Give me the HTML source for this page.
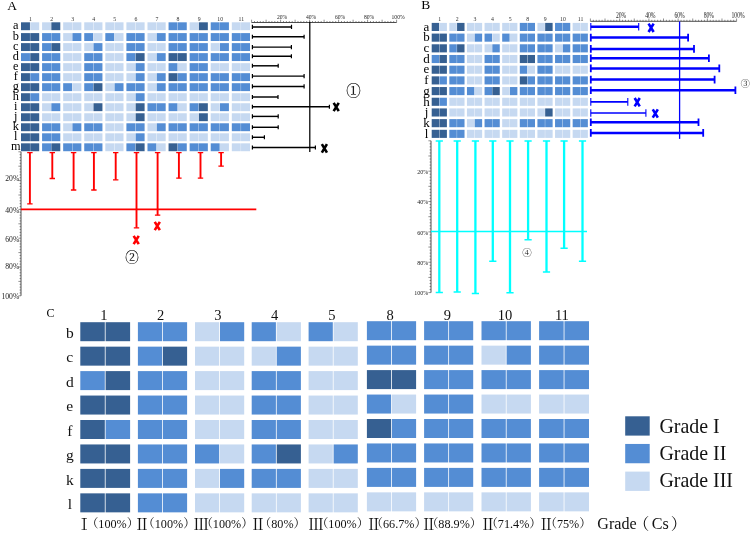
<!DOCTYPE html>
<html><head><meta charset="utf-8"><title>Figure</title>
<style>html,body{margin:0;padding:0;background:#fff}svg{display:block}svg text{font-family:"Liberation Serif","Noto Serif CJK SC",serif}</style></head>
<body>
<svg width="750" height="545" viewBox="0 0 750 545">
<rect width="750" height="545" fill="#fff"/>
<text x="7.30" y="10.00" font-size="13.5" text-anchor="start" fill="#000">A</text>
<text x="30.50" y="21.00" font-size="5.8" text-anchor="middle" fill="#333">1</text>
<text x="51.58" y="21.00" font-size="5.8" text-anchor="middle" fill="#333">2</text>
<text x="72.66" y="21.00" font-size="5.8" text-anchor="middle" fill="#333">3</text>
<text x="93.74" y="21.00" font-size="5.8" text-anchor="middle" fill="#333">4</text>
<text x="114.82" y="21.00" font-size="5.8" text-anchor="middle" fill="#333">5</text>
<text x="135.90" y="21.00" font-size="5.8" text-anchor="middle" fill="#333">6</text>
<text x="156.98" y="21.00" font-size="5.8" text-anchor="middle" fill="#333">7</text>
<text x="178.06" y="21.00" font-size="5.8" text-anchor="middle" fill="#333">8</text>
<text x="199.14" y="21.00" font-size="5.8" text-anchor="middle" fill="#333">9</text>
<text x="220.22" y="21.00" font-size="5.8" text-anchor="middle" fill="#333">10</text>
<text x="241.30" y="21.00" font-size="5.8" text-anchor="middle" fill="#333">11</text>
<rect x="21.00" y="22.30" width="8.95" height="7.90" fill="#366092"/>
<rect x="30.25" y="22.30" width="8.95" height="7.90" fill="#C6D9F1"/>
<rect x="42.08" y="22.30" width="8.95" height="7.90" fill="#C6D9F1"/>
<rect x="51.33" y="22.30" width="8.95" height="7.90" fill="#366092"/>
<rect x="63.16" y="22.30" width="8.95" height="7.90" fill="#C6D9F1"/>
<rect x="72.41" y="22.30" width="8.95" height="7.90" fill="#C6D9F1"/>
<rect x="84.24" y="22.30" width="8.95" height="7.90" fill="#C6D9F1"/>
<rect x="93.49" y="22.30" width="8.95" height="7.90" fill="#C6D9F1"/>
<rect x="105.32" y="22.30" width="8.95" height="7.90" fill="#C6D9F1"/>
<rect x="114.57" y="22.30" width="8.95" height="7.90" fill="#C6D9F1"/>
<rect x="126.40" y="22.30" width="8.95" height="7.90" fill="#C6D9F1"/>
<rect x="135.65" y="22.30" width="8.95" height="7.90" fill="#C6D9F1"/>
<rect x="147.48" y="22.30" width="8.95" height="7.90" fill="#C6D9F1"/>
<rect x="156.73" y="22.30" width="8.95" height="7.90" fill="#C6D9F1"/>
<rect x="168.56" y="22.30" width="8.95" height="7.90" fill="#548DD4"/>
<rect x="177.81" y="22.30" width="8.95" height="7.90" fill="#548DD4"/>
<rect x="189.64" y="22.30" width="8.95" height="7.90" fill="#C6D9F1"/>
<rect x="198.89" y="22.30" width="8.95" height="7.90" fill="#366092"/>
<rect x="210.72" y="22.30" width="8.95" height="7.90" fill="#548DD4"/>
<rect x="219.97" y="22.30" width="8.95" height="7.90" fill="#548DD4"/>
<rect x="231.80" y="22.30" width="8.95" height="7.90" fill="#C6D9F1"/>
<rect x="241.05" y="22.30" width="8.95" height="7.90" fill="#C6D9F1"/>
<text x="15.80" y="29.15" font-size="12.3" text-anchor="middle" fill="#000">a</text>
<rect x="21.00" y="33.10" width="8.95" height="7.90" fill="#366092"/>
<rect x="30.25" y="33.10" width="8.95" height="7.90" fill="#366092"/>
<rect x="42.08" y="33.10" width="8.95" height="7.90" fill="#548DD4"/>
<rect x="51.33" y="33.10" width="8.95" height="7.90" fill="#548DD4"/>
<rect x="63.16" y="33.10" width="8.95" height="7.90" fill="#C6D9F1"/>
<rect x="72.41" y="33.10" width="8.95" height="7.90" fill="#548DD4"/>
<rect x="84.24" y="33.10" width="8.95" height="7.90" fill="#548DD4"/>
<rect x="93.49" y="33.10" width="8.95" height="7.90" fill="#C6D9F1"/>
<rect x="105.32" y="33.10" width="8.95" height="7.90" fill="#548DD4"/>
<rect x="114.57" y="33.10" width="8.95" height="7.90" fill="#C6D9F1"/>
<rect x="126.40" y="33.10" width="8.95" height="7.90" fill="#548DD4"/>
<rect x="135.65" y="33.10" width="8.95" height="7.90" fill="#548DD4"/>
<rect x="147.48" y="33.10" width="8.95" height="7.90" fill="#C6D9F1"/>
<rect x="156.73" y="33.10" width="8.95" height="7.90" fill="#548DD4"/>
<rect x="168.56" y="33.10" width="8.95" height="7.90" fill="#548DD4"/>
<rect x="177.81" y="33.10" width="8.95" height="7.90" fill="#548DD4"/>
<rect x="189.64" y="33.10" width="8.95" height="7.90" fill="#548DD4"/>
<rect x="198.89" y="33.10" width="8.95" height="7.90" fill="#548DD4"/>
<rect x="210.72" y="33.10" width="8.95" height="7.90" fill="#548DD4"/>
<rect x="219.97" y="33.10" width="8.95" height="7.90" fill="#548DD4"/>
<rect x="231.80" y="33.10" width="8.95" height="7.90" fill="#548DD4"/>
<rect x="241.05" y="33.10" width="8.95" height="7.90" fill="#548DD4"/>
<text x="15.80" y="39.95" font-size="12.3" text-anchor="middle" fill="#000">b</text>
<rect x="21.00" y="43.12" width="8.95" height="7.90" fill="#366092"/>
<rect x="30.25" y="43.12" width="8.95" height="7.90" fill="#366092"/>
<rect x="42.08" y="43.12" width="8.95" height="7.90" fill="#548DD4"/>
<rect x="51.33" y="43.12" width="8.95" height="7.90" fill="#366092"/>
<rect x="63.16" y="43.12" width="8.95" height="7.90" fill="#C6D9F1"/>
<rect x="72.41" y="43.12" width="8.95" height="7.90" fill="#C6D9F1"/>
<rect x="84.24" y="43.12" width="8.95" height="7.90" fill="#C6D9F1"/>
<rect x="93.49" y="43.12" width="8.95" height="7.90" fill="#548DD4"/>
<rect x="105.32" y="43.12" width="8.95" height="7.90" fill="#C6D9F1"/>
<rect x="114.57" y="43.12" width="8.95" height="7.90" fill="#C6D9F1"/>
<rect x="126.40" y="43.12" width="8.95" height="7.90" fill="#548DD4"/>
<rect x="135.65" y="43.12" width="8.95" height="7.90" fill="#548DD4"/>
<rect x="147.48" y="43.12" width="8.95" height="7.90" fill="#C6D9F1"/>
<rect x="156.73" y="43.12" width="8.95" height="7.90" fill="#C6D9F1"/>
<rect x="168.56" y="43.12" width="8.95" height="7.90" fill="#548DD4"/>
<rect x="177.81" y="43.12" width="8.95" height="7.90" fill="#548DD4"/>
<rect x="189.64" y="43.12" width="8.95" height="7.90" fill="#548DD4"/>
<rect x="198.89" y="43.12" width="8.95" height="7.90" fill="#548DD4"/>
<rect x="210.72" y="43.12" width="8.95" height="7.90" fill="#C6D9F1"/>
<rect x="219.97" y="43.12" width="8.95" height="7.90" fill="#548DD4"/>
<rect x="231.80" y="43.12" width="8.95" height="7.90" fill="#548DD4"/>
<rect x="241.05" y="43.12" width="8.95" height="7.90" fill="#548DD4"/>
<text x="15.80" y="49.97" font-size="12.3" text-anchor="middle" fill="#000">c</text>
<rect x="21.00" y="53.14" width="8.95" height="7.90" fill="#548DD4"/>
<rect x="30.25" y="53.14" width="8.95" height="7.90" fill="#366092"/>
<rect x="42.08" y="53.14" width="8.95" height="7.90" fill="#548DD4"/>
<rect x="51.33" y="53.14" width="8.95" height="7.90" fill="#548DD4"/>
<rect x="63.16" y="53.14" width="8.95" height="7.90" fill="#C6D9F1"/>
<rect x="72.41" y="53.14" width="8.95" height="7.90" fill="#C6D9F1"/>
<rect x="84.24" y="53.14" width="8.95" height="7.90" fill="#548DD4"/>
<rect x="93.49" y="53.14" width="8.95" height="7.90" fill="#548DD4"/>
<rect x="105.32" y="53.14" width="8.95" height="7.90" fill="#C6D9F1"/>
<rect x="114.57" y="53.14" width="8.95" height="7.90" fill="#C6D9F1"/>
<rect x="126.40" y="53.14" width="8.95" height="7.90" fill="#548DD4"/>
<rect x="135.65" y="53.14" width="8.95" height="7.90" fill="#366092"/>
<rect x="147.48" y="53.14" width="8.95" height="7.90" fill="#C6D9F1"/>
<rect x="156.73" y="53.14" width="8.95" height="7.90" fill="#548DD4"/>
<rect x="168.56" y="53.14" width="8.95" height="7.90" fill="#366092"/>
<rect x="177.81" y="53.14" width="8.95" height="7.90" fill="#366092"/>
<rect x="189.64" y="53.14" width="8.95" height="7.90" fill="#548DD4"/>
<rect x="198.89" y="53.14" width="8.95" height="7.90" fill="#548DD4"/>
<rect x="210.72" y="53.14" width="8.95" height="7.90" fill="#548DD4"/>
<rect x="219.97" y="53.14" width="8.95" height="7.90" fill="#548DD4"/>
<rect x="231.80" y="53.14" width="8.95" height="7.90" fill="#548DD4"/>
<rect x="241.05" y="53.14" width="8.95" height="7.90" fill="#548DD4"/>
<text x="15.80" y="59.99" font-size="12.3" text-anchor="middle" fill="#000">d</text>
<rect x="21.00" y="63.16" width="8.95" height="7.90" fill="#366092"/>
<rect x="30.25" y="63.16" width="8.95" height="7.90" fill="#366092"/>
<rect x="42.08" y="63.16" width="8.95" height="7.90" fill="#548DD4"/>
<rect x="51.33" y="63.16" width="8.95" height="7.90" fill="#548DD4"/>
<rect x="63.16" y="63.16" width="8.95" height="7.90" fill="#C6D9F1"/>
<rect x="72.41" y="63.16" width="8.95" height="7.90" fill="#C6D9F1"/>
<rect x="84.24" y="63.16" width="8.95" height="7.90" fill="#548DD4"/>
<rect x="93.49" y="63.16" width="8.95" height="7.90" fill="#548DD4"/>
<rect x="105.32" y="63.16" width="8.95" height="7.90" fill="#C6D9F1"/>
<rect x="114.57" y="63.16" width="8.95" height="7.90" fill="#C6D9F1"/>
<rect x="126.40" y="63.16" width="8.95" height="7.90" fill="#C6D9F1"/>
<rect x="135.65" y="63.16" width="8.95" height="7.90" fill="#548DD4"/>
<rect x="147.48" y="63.16" width="8.95" height="7.90" fill="#C6D9F1"/>
<rect x="156.73" y="63.16" width="8.95" height="7.90" fill="#C6D9F1"/>
<rect x="168.56" y="63.16" width="8.95" height="7.90" fill="#548DD4"/>
<rect x="177.81" y="63.16" width="8.95" height="7.90" fill="#C6D9F1"/>
<rect x="189.64" y="63.16" width="8.95" height="7.90" fill="#548DD4"/>
<rect x="198.89" y="63.16" width="8.95" height="7.90" fill="#548DD4"/>
<rect x="210.72" y="63.16" width="8.95" height="7.90" fill="#C6D9F1"/>
<rect x="219.97" y="63.16" width="8.95" height="7.90" fill="#C6D9F1"/>
<rect x="231.80" y="63.16" width="8.95" height="7.90" fill="#C6D9F1"/>
<rect x="241.05" y="63.16" width="8.95" height="7.90" fill="#C6D9F1"/>
<text x="15.80" y="70.01" font-size="12.3" text-anchor="middle" fill="#000">e</text>
<rect x="21.00" y="73.18" width="8.95" height="7.90" fill="#366092"/>
<rect x="30.25" y="73.18" width="8.95" height="7.90" fill="#548DD4"/>
<rect x="42.08" y="73.18" width="8.95" height="7.90" fill="#548DD4"/>
<rect x="51.33" y="73.18" width="8.95" height="7.90" fill="#548DD4"/>
<rect x="63.16" y="73.18" width="8.95" height="7.90" fill="#C6D9F1"/>
<rect x="72.41" y="73.18" width="8.95" height="7.90" fill="#C6D9F1"/>
<rect x="84.24" y="73.18" width="8.95" height="7.90" fill="#548DD4"/>
<rect x="93.49" y="73.18" width="8.95" height="7.90" fill="#548DD4"/>
<rect x="105.32" y="73.18" width="8.95" height="7.90" fill="#C6D9F1"/>
<rect x="114.57" y="73.18" width="8.95" height="7.90" fill="#C6D9F1"/>
<rect x="126.40" y="73.18" width="8.95" height="7.90" fill="#C6D9F1"/>
<rect x="135.65" y="73.18" width="8.95" height="7.90" fill="#548DD4"/>
<rect x="147.48" y="73.18" width="8.95" height="7.90" fill="#C6D9F1"/>
<rect x="156.73" y="73.18" width="8.95" height="7.90" fill="#548DD4"/>
<rect x="168.56" y="73.18" width="8.95" height="7.90" fill="#366092"/>
<rect x="177.81" y="73.18" width="8.95" height="7.90" fill="#548DD4"/>
<rect x="189.64" y="73.18" width="8.95" height="7.90" fill="#548DD4"/>
<rect x="198.89" y="73.18" width="8.95" height="7.90" fill="#548DD4"/>
<rect x="210.72" y="73.18" width="8.95" height="7.90" fill="#548DD4"/>
<rect x="219.97" y="73.18" width="8.95" height="7.90" fill="#548DD4"/>
<rect x="231.80" y="73.18" width="8.95" height="7.90" fill="#548DD4"/>
<rect x="241.05" y="73.18" width="8.95" height="7.90" fill="#548DD4"/>
<text x="15.80" y="80.03" font-size="12.3" text-anchor="middle" fill="#000">f</text>
<rect x="21.00" y="83.20" width="8.95" height="7.90" fill="#366092"/>
<rect x="30.25" y="83.20" width="8.95" height="7.90" fill="#366092"/>
<rect x="42.08" y="83.20" width="8.95" height="7.90" fill="#548DD4"/>
<rect x="51.33" y="83.20" width="8.95" height="7.90" fill="#548DD4"/>
<rect x="63.16" y="83.20" width="8.95" height="7.90" fill="#548DD4"/>
<rect x="72.41" y="83.20" width="8.95" height="7.90" fill="#C6D9F1"/>
<rect x="84.24" y="83.20" width="8.95" height="7.90" fill="#548DD4"/>
<rect x="93.49" y="83.20" width="8.95" height="7.90" fill="#366092"/>
<rect x="105.32" y="83.20" width="8.95" height="7.90" fill="#C6D9F1"/>
<rect x="114.57" y="83.20" width="8.95" height="7.90" fill="#548DD4"/>
<rect x="126.40" y="83.20" width="8.95" height="7.90" fill="#548DD4"/>
<rect x="135.65" y="83.20" width="8.95" height="7.90" fill="#548DD4"/>
<rect x="147.48" y="83.20" width="8.95" height="7.90" fill="#C6D9F1"/>
<rect x="156.73" y="83.20" width="8.95" height="7.90" fill="#548DD4"/>
<rect x="168.56" y="83.20" width="8.95" height="7.90" fill="#548DD4"/>
<rect x="177.81" y="83.20" width="8.95" height="7.90" fill="#548DD4"/>
<rect x="189.64" y="83.20" width="8.95" height="7.90" fill="#548DD4"/>
<rect x="198.89" y="83.20" width="8.95" height="7.90" fill="#548DD4"/>
<rect x="210.72" y="83.20" width="8.95" height="7.90" fill="#548DD4"/>
<rect x="219.97" y="83.20" width="8.95" height="7.90" fill="#548DD4"/>
<rect x="231.80" y="83.20" width="8.95" height="7.90" fill="#548DD4"/>
<rect x="241.05" y="83.20" width="8.95" height="7.90" fill="#548DD4"/>
<text x="15.80" y="90.05" font-size="12.3" text-anchor="middle" fill="#000">g</text>
<rect x="21.00" y="93.22" width="8.95" height="7.90" fill="#366092"/>
<rect x="30.25" y="93.22" width="8.95" height="7.90" fill="#548DD4"/>
<rect x="42.08" y="93.22" width="8.95" height="7.90" fill="#C6D9F1"/>
<rect x="51.33" y="93.22" width="8.95" height="7.90" fill="#C6D9F1"/>
<rect x="63.16" y="93.22" width="8.95" height="7.90" fill="#C6D9F1"/>
<rect x="72.41" y="93.22" width="8.95" height="7.90" fill="#C6D9F1"/>
<rect x="84.24" y="93.22" width="8.95" height="7.90" fill="#C6D9F1"/>
<rect x="93.49" y="93.22" width="8.95" height="7.90" fill="#C6D9F1"/>
<rect x="105.32" y="93.22" width="8.95" height="7.90" fill="#C6D9F1"/>
<rect x="114.57" y="93.22" width="8.95" height="7.90" fill="#C6D9F1"/>
<rect x="126.40" y="93.22" width="8.95" height="7.90" fill="#C6D9F1"/>
<rect x="135.65" y="93.22" width="8.95" height="7.90" fill="#548DD4"/>
<rect x="147.48" y="93.22" width="8.95" height="7.90" fill="#C6D9F1"/>
<rect x="156.73" y="93.22" width="8.95" height="7.90" fill="#C6D9F1"/>
<rect x="168.56" y="93.22" width="8.95" height="7.90" fill="#C6D9F1"/>
<rect x="177.81" y="93.22" width="8.95" height="7.90" fill="#C6D9F1"/>
<rect x="189.64" y="93.22" width="8.95" height="7.90" fill="#C6D9F1"/>
<rect x="198.89" y="93.22" width="8.95" height="7.90" fill="#C6D9F1"/>
<rect x="210.72" y="93.22" width="8.95" height="7.90" fill="#C6D9F1"/>
<rect x="219.97" y="93.22" width="8.95" height="7.90" fill="#C6D9F1"/>
<rect x="231.80" y="93.22" width="8.95" height="7.90" fill="#C6D9F1"/>
<rect x="241.05" y="93.22" width="8.95" height="7.90" fill="#C6D9F1"/>
<text x="15.80" y="100.07" font-size="12.3" text-anchor="middle" fill="#000">h</text>
<rect x="21.00" y="103.24" width="8.95" height="7.90" fill="#366092"/>
<rect x="30.25" y="103.24" width="8.95" height="7.90" fill="#366092"/>
<rect x="42.08" y="103.24" width="8.95" height="7.90" fill="#C6D9F1"/>
<rect x="51.33" y="103.24" width="8.95" height="7.90" fill="#548DD4"/>
<rect x="63.16" y="103.24" width="8.95" height="7.90" fill="#C6D9F1"/>
<rect x="72.41" y="103.24" width="8.95" height="7.90" fill="#C6D9F1"/>
<rect x="84.24" y="103.24" width="8.95" height="7.90" fill="#C6D9F1"/>
<rect x="93.49" y="103.24" width="8.95" height="7.90" fill="#366092"/>
<rect x="105.32" y="103.24" width="8.95" height="7.90" fill="#C6D9F1"/>
<rect x="114.57" y="103.24" width="8.95" height="7.90" fill="#C6D9F1"/>
<rect x="126.40" y="103.24" width="8.95" height="7.90" fill="#C6D9F1"/>
<rect x="135.65" y="103.24" width="8.95" height="7.90" fill="#366092"/>
<rect x="147.48" y="103.24" width="8.95" height="7.90" fill="#548DD4"/>
<rect x="156.73" y="103.24" width="8.95" height="7.90" fill="#548DD4"/>
<rect x="168.56" y="103.24" width="8.95" height="7.90" fill="#548DD4"/>
<rect x="177.81" y="103.24" width="8.95" height="7.90" fill="#C6D9F1"/>
<rect x="189.64" y="103.24" width="8.95" height="7.90" fill="#548DD4"/>
<rect x="198.89" y="103.24" width="8.95" height="7.90" fill="#366092"/>
<rect x="210.72" y="103.24" width="8.95" height="7.90" fill="#C6D9F1"/>
<rect x="219.97" y="103.24" width="8.95" height="7.90" fill="#548DD4"/>
<rect x="231.80" y="103.24" width="8.95" height="7.90" fill="#C6D9F1"/>
<rect x="241.05" y="103.24" width="8.95" height="7.90" fill="#C6D9F1"/>
<text x="15.80" y="110.09" font-size="12.3" text-anchor="middle" fill="#000">i</text>
<rect x="21.00" y="113.26" width="8.95" height="7.90" fill="#366092"/>
<rect x="30.25" y="113.26" width="8.95" height="7.90" fill="#366092"/>
<rect x="42.08" y="113.26" width="8.95" height="7.90" fill="#C6D9F1"/>
<rect x="51.33" y="113.26" width="8.95" height="7.90" fill="#C6D9F1"/>
<rect x="63.16" y="113.26" width="8.95" height="7.90" fill="#C6D9F1"/>
<rect x="72.41" y="113.26" width="8.95" height="7.90" fill="#C6D9F1"/>
<rect x="84.24" y="113.26" width="8.95" height="7.90" fill="#C6D9F1"/>
<rect x="93.49" y="113.26" width="8.95" height="7.90" fill="#C6D9F1"/>
<rect x="105.32" y="113.26" width="8.95" height="7.90" fill="#C6D9F1"/>
<rect x="114.57" y="113.26" width="8.95" height="7.90" fill="#C6D9F1"/>
<rect x="126.40" y="113.26" width="8.95" height="7.90" fill="#C6D9F1"/>
<rect x="135.65" y="113.26" width="8.95" height="7.90" fill="#366092"/>
<rect x="147.48" y="113.26" width="8.95" height="7.90" fill="#C6D9F1"/>
<rect x="156.73" y="113.26" width="8.95" height="7.90" fill="#C6D9F1"/>
<rect x="168.56" y="113.26" width="8.95" height="7.90" fill="#C6D9F1"/>
<rect x="177.81" y="113.26" width="8.95" height="7.90" fill="#C6D9F1"/>
<rect x="189.64" y="113.26" width="8.95" height="7.90" fill="#C6D9F1"/>
<rect x="198.89" y="113.26" width="8.95" height="7.90" fill="#366092"/>
<rect x="210.72" y="113.26" width="8.95" height="7.90" fill="#C6D9F1"/>
<rect x="219.97" y="113.26" width="8.95" height="7.90" fill="#C6D9F1"/>
<rect x="231.80" y="113.26" width="8.95" height="7.90" fill="#C6D9F1"/>
<rect x="241.05" y="113.26" width="8.95" height="7.90" fill="#C6D9F1"/>
<text x="15.80" y="120.11" font-size="12.3" text-anchor="middle" fill="#000">j</text>
<rect x="21.00" y="123.28" width="8.95" height="7.90" fill="#366092"/>
<rect x="30.25" y="123.28" width="8.95" height="7.90" fill="#366092"/>
<rect x="42.08" y="123.28" width="8.95" height="7.90" fill="#548DD4"/>
<rect x="51.33" y="123.28" width="8.95" height="7.90" fill="#548DD4"/>
<rect x="63.16" y="123.28" width="8.95" height="7.90" fill="#C6D9F1"/>
<rect x="72.41" y="123.28" width="8.95" height="7.90" fill="#548DD4"/>
<rect x="84.24" y="123.28" width="8.95" height="7.90" fill="#548DD4"/>
<rect x="93.49" y="123.28" width="8.95" height="7.90" fill="#548DD4"/>
<rect x="105.32" y="123.28" width="8.95" height="7.90" fill="#C6D9F1"/>
<rect x="114.57" y="123.28" width="8.95" height="7.90" fill="#C6D9F1"/>
<rect x="126.40" y="123.28" width="8.95" height="7.90" fill="#548DD4"/>
<rect x="135.65" y="123.28" width="8.95" height="7.90" fill="#548DD4"/>
<rect x="147.48" y="123.28" width="8.95" height="7.90" fill="#C6D9F1"/>
<rect x="156.73" y="123.28" width="8.95" height="7.90" fill="#548DD4"/>
<rect x="168.56" y="123.28" width="8.95" height="7.90" fill="#548DD4"/>
<rect x="177.81" y="123.28" width="8.95" height="7.90" fill="#548DD4"/>
<rect x="189.64" y="123.28" width="8.95" height="7.90" fill="#548DD4"/>
<rect x="198.89" y="123.28" width="8.95" height="7.90" fill="#548DD4"/>
<rect x="210.72" y="123.28" width="8.95" height="7.90" fill="#548DD4"/>
<rect x="219.97" y="123.28" width="8.95" height="7.90" fill="#548DD4"/>
<rect x="231.80" y="123.28" width="8.95" height="7.90" fill="#548DD4"/>
<rect x="241.05" y="123.28" width="8.95" height="7.90" fill="#548DD4"/>
<text x="15.80" y="130.13" font-size="12.3" text-anchor="middle" fill="#000">k</text>
<rect x="21.00" y="133.30" width="8.95" height="7.90" fill="#366092"/>
<rect x="30.25" y="133.30" width="8.95" height="7.90" fill="#366092"/>
<rect x="42.08" y="133.30" width="8.95" height="7.90" fill="#548DD4"/>
<rect x="51.33" y="133.30" width="8.95" height="7.90" fill="#548DD4"/>
<rect x="63.16" y="133.30" width="8.95" height="7.90" fill="#C6D9F1"/>
<rect x="72.41" y="133.30" width="8.95" height="7.90" fill="#C6D9F1"/>
<rect x="84.24" y="133.30" width="8.95" height="7.90" fill="#C6D9F1"/>
<rect x="93.49" y="133.30" width="8.95" height="7.90" fill="#C6D9F1"/>
<rect x="105.32" y="133.30" width="8.95" height="7.90" fill="#C6D9F1"/>
<rect x="114.57" y="133.30" width="8.95" height="7.90" fill="#C6D9F1"/>
<rect x="126.40" y="133.30" width="8.95" height="7.90" fill="#C6D9F1"/>
<rect x="135.65" y="133.30" width="8.95" height="7.90" fill="#548DD4"/>
<rect x="147.48" y="133.30" width="8.95" height="7.90" fill="#C6D9F1"/>
<rect x="156.73" y="133.30" width="8.95" height="7.90" fill="#C6D9F1"/>
<rect x="168.56" y="133.30" width="8.95" height="7.90" fill="#C6D9F1"/>
<rect x="177.81" y="133.30" width="8.95" height="7.90" fill="#C6D9F1"/>
<rect x="189.64" y="133.30" width="8.95" height="7.90" fill="#C6D9F1"/>
<rect x="198.89" y="133.30" width="8.95" height="7.90" fill="#C6D9F1"/>
<rect x="210.72" y="133.30" width="8.95" height="7.90" fill="#C6D9F1"/>
<rect x="219.97" y="133.30" width="8.95" height="7.90" fill="#C6D9F1"/>
<rect x="231.80" y="133.30" width="8.95" height="7.90" fill="#C6D9F1"/>
<rect x="241.05" y="133.30" width="8.95" height="7.90" fill="#C6D9F1"/>
<text x="15.80" y="140.15" font-size="12.3" text-anchor="middle" fill="#000">l</text>
<rect x="21.00" y="143.32" width="8.95" height="7.90" fill="#366092"/>
<rect x="30.25" y="143.32" width="8.95" height="7.90" fill="#366092"/>
<rect x="42.08" y="143.32" width="8.95" height="7.90" fill="#548DD4"/>
<rect x="51.33" y="143.32" width="8.95" height="7.90" fill="#366092"/>
<rect x="63.16" y="143.32" width="8.95" height="7.90" fill="#548DD4"/>
<rect x="72.41" y="143.32" width="8.95" height="7.90" fill="#548DD4"/>
<rect x="84.24" y="143.32" width="8.95" height="7.90" fill="#548DD4"/>
<rect x="93.49" y="143.32" width="8.95" height="7.90" fill="#548DD4"/>
<rect x="105.32" y="143.32" width="8.95" height="7.90" fill="#C6D9F1"/>
<rect x="114.57" y="143.32" width="8.95" height="7.90" fill="#C6D9F1"/>
<rect x="126.40" y="143.32" width="8.95" height="7.90" fill="#548DD4"/>
<rect x="135.65" y="143.32" width="8.95" height="7.90" fill="#366092"/>
<rect x="147.48" y="143.32" width="8.95" height="7.90" fill="#548DD4"/>
<rect x="156.73" y="143.32" width="8.95" height="7.90" fill="#C6D9F1"/>
<rect x="168.56" y="143.32" width="8.95" height="7.90" fill="#366092"/>
<rect x="177.81" y="143.32" width="8.95" height="7.90" fill="#548DD4"/>
<rect x="189.64" y="143.32" width="8.95" height="7.90" fill="#548DD4"/>
<rect x="198.89" y="143.32" width="8.95" height="7.90" fill="#548DD4"/>
<rect x="210.72" y="143.32" width="8.95" height="7.90" fill="#548DD4"/>
<rect x="219.97" y="143.32" width="8.95" height="7.90" fill="#C6D9F1"/>
<rect x="231.80" y="143.32" width="8.95" height="7.90" fill="#C6D9F1"/>
<rect x="241.05" y="143.32" width="8.95" height="7.90" fill="#C6D9F1"/>
<text x="15.80" y="150.17" font-size="12.3" text-anchor="middle" fill="#000">m</text>
<line x1="251.6" y1="22.5" x2="396.6" y2="22.5" stroke="#444" stroke-width="0.95"/>
<line x1="251.60" y1="22.5" x2="251.60" y2="19.7" stroke="#444" stroke-width="0.6"/>
<line x1="254.50" y1="22.5" x2="254.50" y2="21.0" stroke="#444" stroke-width="0.6"/>
<line x1="257.40" y1="22.5" x2="257.40" y2="21.0" stroke="#444" stroke-width="0.6"/>
<line x1="260.30" y1="22.5" x2="260.30" y2="21.0" stroke="#444" stroke-width="0.6"/>
<line x1="263.20" y1="22.5" x2="263.20" y2="21.0" stroke="#444" stroke-width="0.6"/>
<line x1="266.10" y1="22.5" x2="266.10" y2="19.7" stroke="#444" stroke-width="0.6"/>
<line x1="269.00" y1="22.5" x2="269.00" y2="21.0" stroke="#444" stroke-width="0.6"/>
<line x1="271.90" y1="22.5" x2="271.90" y2="21.0" stroke="#444" stroke-width="0.6"/>
<line x1="274.80" y1="22.5" x2="274.80" y2="21.0" stroke="#444" stroke-width="0.6"/>
<line x1="277.70" y1="22.5" x2="277.70" y2="21.0" stroke="#444" stroke-width="0.6"/>
<line x1="280.60" y1="22.5" x2="280.60" y2="19.7" stroke="#444" stroke-width="0.6"/>
<line x1="283.50" y1="22.5" x2="283.50" y2="21.0" stroke="#444" stroke-width="0.6"/>
<line x1="286.40" y1="22.5" x2="286.40" y2="21.0" stroke="#444" stroke-width="0.6"/>
<line x1="289.30" y1="22.5" x2="289.30" y2="21.0" stroke="#444" stroke-width="0.6"/>
<line x1="292.20" y1="22.5" x2="292.20" y2="21.0" stroke="#444" stroke-width="0.6"/>
<line x1="295.10" y1="22.5" x2="295.10" y2="19.7" stroke="#444" stroke-width="0.6"/>
<line x1="298.00" y1="22.5" x2="298.00" y2="21.0" stroke="#444" stroke-width="0.6"/>
<line x1="300.90" y1="22.5" x2="300.90" y2="21.0" stroke="#444" stroke-width="0.6"/>
<line x1="303.80" y1="22.5" x2="303.80" y2="21.0" stroke="#444" stroke-width="0.6"/>
<line x1="306.70" y1="22.5" x2="306.70" y2="21.0" stroke="#444" stroke-width="0.6"/>
<line x1="309.60" y1="22.5" x2="309.60" y2="19.7" stroke="#444" stroke-width="0.6"/>
<line x1="312.50" y1="22.5" x2="312.50" y2="21.0" stroke="#444" stroke-width="0.6"/>
<line x1="315.40" y1="22.5" x2="315.40" y2="21.0" stroke="#444" stroke-width="0.6"/>
<line x1="318.30" y1="22.5" x2="318.30" y2="21.0" stroke="#444" stroke-width="0.6"/>
<line x1="321.20" y1="22.5" x2="321.20" y2="21.0" stroke="#444" stroke-width="0.6"/>
<line x1="324.10" y1="22.5" x2="324.10" y2="19.7" stroke="#444" stroke-width="0.6"/>
<line x1="327.00" y1="22.5" x2="327.00" y2="21.0" stroke="#444" stroke-width="0.6"/>
<line x1="329.90" y1="22.5" x2="329.90" y2="21.0" stroke="#444" stroke-width="0.6"/>
<line x1="332.80" y1="22.5" x2="332.80" y2="21.0" stroke="#444" stroke-width="0.6"/>
<line x1="335.70" y1="22.5" x2="335.70" y2="21.0" stroke="#444" stroke-width="0.6"/>
<line x1="338.60" y1="22.5" x2="338.60" y2="19.7" stroke="#444" stroke-width="0.6"/>
<line x1="341.50" y1="22.5" x2="341.50" y2="21.0" stroke="#444" stroke-width="0.6"/>
<line x1="344.40" y1="22.5" x2="344.40" y2="21.0" stroke="#444" stroke-width="0.6"/>
<line x1="347.30" y1="22.5" x2="347.30" y2="21.0" stroke="#444" stroke-width="0.6"/>
<line x1="350.20" y1="22.5" x2="350.20" y2="21.0" stroke="#444" stroke-width="0.6"/>
<line x1="353.10" y1="22.5" x2="353.10" y2="19.7" stroke="#444" stroke-width="0.6"/>
<line x1="356.00" y1="22.5" x2="356.00" y2="21.0" stroke="#444" stroke-width="0.6"/>
<line x1="358.90" y1="22.5" x2="358.90" y2="21.0" stroke="#444" stroke-width="0.6"/>
<line x1="361.80" y1="22.5" x2="361.80" y2="21.0" stroke="#444" stroke-width="0.6"/>
<line x1="364.70" y1="22.5" x2="364.70" y2="21.0" stroke="#444" stroke-width="0.6"/>
<line x1="367.60" y1="22.5" x2="367.60" y2="19.7" stroke="#444" stroke-width="0.6"/>
<line x1="370.50" y1="22.5" x2="370.50" y2="21.0" stroke="#444" stroke-width="0.6"/>
<line x1="373.40" y1="22.5" x2="373.40" y2="21.0" stroke="#444" stroke-width="0.6"/>
<line x1="376.30" y1="22.5" x2="376.30" y2="21.0" stroke="#444" stroke-width="0.6"/>
<line x1="379.20" y1="22.5" x2="379.20" y2="21.0" stroke="#444" stroke-width="0.6"/>
<line x1="382.10" y1="22.5" x2="382.10" y2="19.7" stroke="#444" stroke-width="0.6"/>
<line x1="385.00" y1="22.5" x2="385.00" y2="21.0" stroke="#444" stroke-width="0.6"/>
<line x1="387.90" y1="22.5" x2="387.90" y2="21.0" stroke="#444" stroke-width="0.6"/>
<line x1="390.80" y1="22.5" x2="390.80" y2="21.0" stroke="#444" stroke-width="0.6"/>
<line x1="393.70" y1="22.5" x2="393.70" y2="21.0" stroke="#444" stroke-width="0.6"/>
<line x1="396.60" y1="22.5" x2="396.60" y2="19.7" stroke="#444" stroke-width="0.6"/>
<text transform="translate(282.10 18.60) scale(0.84 1)" font-size="6.7" text-anchor="middle" fill="#222">20%</text>
<text transform="translate(311.10 18.60) scale(0.84 1)" font-size="6.7" text-anchor="middle" fill="#222">40%</text>
<text transform="translate(340.10 18.60) scale(0.84 1)" font-size="6.7" text-anchor="middle" fill="#222">60%</text>
<text transform="translate(369.10 18.60) scale(0.84 1)" font-size="6.7" text-anchor="middle" fill="#222">80%</text>
<text transform="translate(398.10 18.60) scale(0.84 1)" font-size="6.7" text-anchor="middle" fill="#222">100%</text>
<path d="M252.40 26.90H291.50" stroke="#000" stroke-width="1.45" fill="none"/>
<path d="M252.40 24.85v4.1M291.50 24.85v4.1" stroke="#000" stroke-width="1.2" fill="none"/>
<path d="M252.40 36.70H304.10" stroke="#000" stroke-width="1.45" fill="none"/>
<path d="M252.40 34.65v4.1M304.10 34.65v4.1" stroke="#000" stroke-width="1.2" fill="none"/>
<path d="M252.40 47.10H291.40" stroke="#000" stroke-width="1.45" fill="none"/>
<path d="M252.40 45.05v4.1M291.40 45.05v4.1" stroke="#000" stroke-width="1.2" fill="none"/>
<path d="M252.40 56.20H291.40" stroke="#000" stroke-width="1.45" fill="none"/>
<path d="M252.40 54.15v4.1M291.40 54.15v4.1" stroke="#000" stroke-width="1.2" fill="none"/>
<path d="M252.40 65.80H278.20" stroke="#000" stroke-width="1.45" fill="none"/>
<path d="M252.40 63.75v4.1M278.20 63.75v4.1" stroke="#000" stroke-width="1.2" fill="none"/>
<path d="M252.40 76.10H304.10" stroke="#000" stroke-width="1.45" fill="none"/>
<path d="M252.40 74.05v4.1M304.10 74.05v4.1" stroke="#000" stroke-width="1.2" fill="none"/>
<path d="M252.40 86.40H304.10" stroke="#000" stroke-width="1.45" fill="none"/>
<path d="M252.40 84.35v4.1M304.10 84.35v4.1" stroke="#000" stroke-width="1.2" fill="none"/>
<path d="M252.40 97.00H278.00" stroke="#000" stroke-width="1.45" fill="none"/>
<path d="M252.40 94.95v4.1M278.00 94.95v4.1" stroke="#000" stroke-width="1.2" fill="none"/>
<path d="M252.40 106.80H329.40" stroke="#000" stroke-width="1.45" fill="none"/>
<path d="M252.40 104.75v4.1M329.40 104.75v4.1" stroke="#000" stroke-width="1.2" fill="none"/>
<path d="M252.40 116.40H278.20" stroke="#000" stroke-width="1.45" fill="none"/>
<path d="M252.40 114.35v4.1M278.20 114.35v4.1" stroke="#000" stroke-width="1.2" fill="none"/>
<path d="M252.40 127.30H278.20" stroke="#000" stroke-width="1.45" fill="none"/>
<path d="M252.40 125.25v4.1M278.20 125.25v4.1" stroke="#000" stroke-width="1.2" fill="none"/>
<path d="M252.40 137.30H264.40" stroke="#000" stroke-width="1.45" fill="none"/>
<path d="M252.40 135.25v4.1M264.40 135.25v4.1" stroke="#000" stroke-width="1.2" fill="none"/>
<path d="M252.40 147.50H315.40" stroke="#000" stroke-width="1.45" fill="none"/>
<path d="M252.40 145.45v4.1M315.40 145.45v4.1" stroke="#000" stroke-width="1.2" fill="none"/>
<line x1="309.8" y1="21.8" x2="309.8" y2="151.9" stroke="#000" stroke-width="1.25"/>
<path d="M333.65 102.80L338.75 111.20M338.75 102.80L333.65 111.20" stroke="#000" stroke-width="2.6" fill="none"/>
<path d="M321.85 144.20L326.95 152.60M326.95 144.20L321.85 152.60" stroke="#000" stroke-width="2.6" fill="none"/>
<text x="353.60" y="95.90" font-size="14.5" text-anchor="middle" fill="#111" stroke="#111" stroke-width="0.2">①</text>
<line x1="21.0" y1="151.8" x2="21.0" y2="295.8" stroke="#444" stroke-width="0.95"/>
<line x1="21.0" y1="151.80" x2="18.4" y2="151.80" stroke="#444" stroke-width="0.6"/>
<line x1="21.0" y1="154.68" x2="19.6" y2="154.68" stroke="#444" stroke-width="0.6"/>
<line x1="21.0" y1="157.56" x2="19.6" y2="157.56" stroke="#444" stroke-width="0.6"/>
<line x1="21.0" y1="160.44" x2="19.6" y2="160.44" stroke="#444" stroke-width="0.6"/>
<line x1="21.0" y1="163.32" x2="19.6" y2="163.32" stroke="#444" stroke-width="0.6"/>
<line x1="21.0" y1="166.20" x2="18.4" y2="166.20" stroke="#444" stroke-width="0.6"/>
<line x1="21.0" y1="169.08" x2="19.6" y2="169.08" stroke="#444" stroke-width="0.6"/>
<line x1="21.0" y1="171.96" x2="19.6" y2="171.96" stroke="#444" stroke-width="0.6"/>
<line x1="21.0" y1="174.84" x2="19.6" y2="174.84" stroke="#444" stroke-width="0.6"/>
<line x1="21.0" y1="177.72" x2="19.6" y2="177.72" stroke="#444" stroke-width="0.6"/>
<line x1="21.0" y1="180.60" x2="18.4" y2="180.60" stroke="#444" stroke-width="0.6"/>
<line x1="21.0" y1="183.48" x2="19.6" y2="183.48" stroke="#444" stroke-width="0.6"/>
<line x1="21.0" y1="186.36" x2="19.6" y2="186.36" stroke="#444" stroke-width="0.6"/>
<line x1="21.0" y1="189.24" x2="19.6" y2="189.24" stroke="#444" stroke-width="0.6"/>
<line x1="21.0" y1="192.12" x2="19.6" y2="192.12" stroke="#444" stroke-width="0.6"/>
<line x1="21.0" y1="195.00" x2="18.4" y2="195.00" stroke="#444" stroke-width="0.6"/>
<line x1="21.0" y1="197.88" x2="19.6" y2="197.88" stroke="#444" stroke-width="0.6"/>
<line x1="21.0" y1="200.76" x2="19.6" y2="200.76" stroke="#444" stroke-width="0.6"/>
<line x1="21.0" y1="203.64" x2="19.6" y2="203.64" stroke="#444" stroke-width="0.6"/>
<line x1="21.0" y1="206.52" x2="19.6" y2="206.52" stroke="#444" stroke-width="0.6"/>
<line x1="21.0" y1="209.40" x2="18.4" y2="209.40" stroke="#444" stroke-width="0.6"/>
<line x1="21.0" y1="212.28" x2="19.6" y2="212.28" stroke="#444" stroke-width="0.6"/>
<line x1="21.0" y1="215.16" x2="19.6" y2="215.16" stroke="#444" stroke-width="0.6"/>
<line x1="21.0" y1="218.04" x2="19.6" y2="218.04" stroke="#444" stroke-width="0.6"/>
<line x1="21.0" y1="220.92" x2="19.6" y2="220.92" stroke="#444" stroke-width="0.6"/>
<line x1="21.0" y1="223.80" x2="18.4" y2="223.80" stroke="#444" stroke-width="0.6"/>
<line x1="21.0" y1="226.68" x2="19.6" y2="226.68" stroke="#444" stroke-width="0.6"/>
<line x1="21.0" y1="229.56" x2="19.6" y2="229.56" stroke="#444" stroke-width="0.6"/>
<line x1="21.0" y1="232.44" x2="19.6" y2="232.44" stroke="#444" stroke-width="0.6"/>
<line x1="21.0" y1="235.32" x2="19.6" y2="235.32" stroke="#444" stroke-width="0.6"/>
<line x1="21.0" y1="238.20" x2="18.4" y2="238.20" stroke="#444" stroke-width="0.6"/>
<line x1="21.0" y1="241.08" x2="19.6" y2="241.08" stroke="#444" stroke-width="0.6"/>
<line x1="21.0" y1="243.96" x2="19.6" y2="243.96" stroke="#444" stroke-width="0.6"/>
<line x1="21.0" y1="246.84" x2="19.6" y2="246.84" stroke="#444" stroke-width="0.6"/>
<line x1="21.0" y1="249.72" x2="19.6" y2="249.72" stroke="#444" stroke-width="0.6"/>
<line x1="21.0" y1="252.60" x2="18.4" y2="252.60" stroke="#444" stroke-width="0.6"/>
<line x1="21.0" y1="255.48" x2="19.6" y2="255.48" stroke="#444" stroke-width="0.6"/>
<line x1="21.0" y1="258.36" x2="19.6" y2="258.36" stroke="#444" stroke-width="0.6"/>
<line x1="21.0" y1="261.24" x2="19.6" y2="261.24" stroke="#444" stroke-width="0.6"/>
<line x1="21.0" y1="264.12" x2="19.6" y2="264.12" stroke="#444" stroke-width="0.6"/>
<line x1="21.0" y1="267.00" x2="18.4" y2="267.00" stroke="#444" stroke-width="0.6"/>
<line x1="21.0" y1="269.88" x2="19.6" y2="269.88" stroke="#444" stroke-width="0.6"/>
<line x1="21.0" y1="272.76" x2="19.6" y2="272.76" stroke="#444" stroke-width="0.6"/>
<line x1="21.0" y1="275.64" x2="19.6" y2="275.64" stroke="#444" stroke-width="0.6"/>
<line x1="21.0" y1="278.52" x2="19.6" y2="278.52" stroke="#444" stroke-width="0.6"/>
<line x1="21.0" y1="281.40" x2="18.4" y2="281.40" stroke="#444" stroke-width="0.6"/>
<line x1="21.0" y1="284.28" x2="19.6" y2="284.28" stroke="#444" stroke-width="0.6"/>
<line x1="21.0" y1="287.16" x2="19.6" y2="287.16" stroke="#444" stroke-width="0.6"/>
<line x1="21.0" y1="290.04" x2="19.6" y2="290.04" stroke="#444" stroke-width="0.6"/>
<line x1="21.0" y1="292.92" x2="19.6" y2="292.92" stroke="#444" stroke-width="0.6"/>
<line x1="21.0" y1="295.80" x2="18.4" y2="295.80" stroke="#444" stroke-width="0.6"/>
<text transform="translate(19.30 180.66) scale(0.88 1)" font-size="8.7" text-anchor="end" fill="#222">20%</text>
<text transform="translate(19.30 212.66) scale(0.88 1)" font-size="8.7" text-anchor="end" fill="#222">40%</text>
<text transform="translate(19.30 242.06) scale(0.88 1)" font-size="8.7" text-anchor="end" fill="#222">60%</text>
<text transform="translate(19.30 269.46) scale(0.88 1)" font-size="8.7" text-anchor="end" fill="#222">80%</text>
<text transform="translate(19.30 299.26) scale(0.88 1)" font-size="8.7" text-anchor="end" fill="#222">100%</text>
<path d="M29.90 152.60V203.90" stroke="#FF0000" stroke-width="1.9" fill="none"/>
<path d="M27.20 152.60h5.4M27.20 203.90h5.4" stroke="#FF0000" stroke-width="1.3" fill="none"/>
<path d="M52.30 152.60V178.50" stroke="#FF0000" stroke-width="1.9" fill="none"/>
<path d="M49.60 152.60h5.4M49.60 178.50h5.4" stroke="#FF0000" stroke-width="1.3" fill="none"/>
<path d="M73.60 152.60V190.00" stroke="#FF0000" stroke-width="1.9" fill="none"/>
<path d="M70.90 152.60h5.4M70.90 190.00h5.4" stroke="#FF0000" stroke-width="1.3" fill="none"/>
<path d="M93.90 152.60V190.00" stroke="#FF0000" stroke-width="1.9" fill="none"/>
<path d="M91.20 152.60h5.4M91.20 190.00h5.4" stroke="#FF0000" stroke-width="1.3" fill="none"/>
<path d="M115.70 152.60V179.80" stroke="#FF0000" stroke-width="1.9" fill="none"/>
<path d="M113.00 152.60h5.4M113.00 179.80h5.4" stroke="#FF0000" stroke-width="1.3" fill="none"/>
<path d="M136.50 152.60V227.80" stroke="#FF0000" stroke-width="1.9" fill="none"/>
<path d="M133.80 152.60h5.4M133.80 227.80h5.4" stroke="#FF0000" stroke-width="1.3" fill="none"/>
<path d="M157.60 152.60V215.20" stroke="#FF0000" stroke-width="1.9" fill="none"/>
<path d="M154.90 152.60h5.4M154.90 215.20h5.4" stroke="#FF0000" stroke-width="1.3" fill="none"/>
<path d="M178.90 152.60V178.20" stroke="#FF0000" stroke-width="1.9" fill="none"/>
<path d="M176.20 152.60h5.4M176.20 178.20h5.4" stroke="#FF0000" stroke-width="1.3" fill="none"/>
<path d="M200.50 152.60V178.20" stroke="#FF0000" stroke-width="1.9" fill="none"/>
<path d="M197.80 152.60h5.4M197.80 178.20h5.4" stroke="#FF0000" stroke-width="1.3" fill="none"/>
<path d="M221.10 152.60V166.20" stroke="#FF0000" stroke-width="1.9" fill="none"/>
<path d="M218.40 152.60h5.4M218.40 166.20h5.4" stroke="#FF0000" stroke-width="1.3" fill="none"/>
<line x1="21.0" y1="209.4" x2="256.3" y2="209.4" stroke="#FF0000" stroke-width="1.7"/>
<path d="M133.65 235.80L138.75 244.20M138.75 235.80L133.65 244.20" stroke="#FF0000" stroke-width="2.6" fill="none"/>
<path d="M154.75 221.80L159.85 230.20M159.85 221.80L154.75 230.20" stroke="#FF0000" stroke-width="2.6" fill="none"/>
<text x="132.10" y="262.26" font-size="13.5" text-anchor="middle" fill="#111" stroke="#111" stroke-width="0.2">②</text>
<text x="421.30" y="8.90" font-size="13.5" text-anchor="start" fill="#000">B</text>
<text x="439.60" y="21.00" font-size="5.8" text-anchor="middle" fill="#333">1</text>
<text x="457.22" y="21.00" font-size="5.8" text-anchor="middle" fill="#333">2</text>
<text x="474.84" y="21.00" font-size="5.8" text-anchor="middle" fill="#333">3</text>
<text x="492.46" y="21.00" font-size="5.8" text-anchor="middle" fill="#333">4</text>
<text x="510.08" y="21.00" font-size="5.8" text-anchor="middle" fill="#333">5</text>
<text x="527.70" y="21.00" font-size="5.8" text-anchor="middle" fill="#333">8</text>
<text x="545.32" y="21.00" font-size="5.8" text-anchor="middle" fill="#333">9</text>
<text x="562.94" y="21.00" font-size="5.8" text-anchor="middle" fill="#333">10</text>
<text x="580.56" y="21.00" font-size="5.8" text-anchor="middle" fill="#333">11</text>
<rect x="431.70" y="22.90" width="7.45" height="8.10" fill="#366092"/>
<rect x="439.45" y="22.90" width="7.45" height="8.10" fill="#C6D9F1"/>
<rect x="449.32" y="22.90" width="7.45" height="8.10" fill="#C6D9F1"/>
<rect x="457.07" y="22.90" width="7.45" height="8.10" fill="#366092"/>
<rect x="466.94" y="22.90" width="7.45" height="8.10" fill="#C6D9F1"/>
<rect x="474.69" y="22.90" width="7.45" height="8.10" fill="#C6D9F1"/>
<rect x="484.56" y="22.90" width="7.45" height="8.10" fill="#C6D9F1"/>
<rect x="492.31" y="22.90" width="7.45" height="8.10" fill="#C6D9F1"/>
<rect x="502.18" y="22.90" width="7.45" height="8.10" fill="#C6D9F1"/>
<rect x="509.93" y="22.90" width="7.45" height="8.10" fill="#C6D9F1"/>
<rect x="519.80" y="22.90" width="7.45" height="8.10" fill="#548DD4"/>
<rect x="527.55" y="22.90" width="7.45" height="8.10" fill="#548DD4"/>
<rect x="537.42" y="22.90" width="7.45" height="8.10" fill="#C6D9F1"/>
<rect x="545.17" y="22.90" width="7.45" height="8.10" fill="#366092"/>
<rect x="555.04" y="22.90" width="7.45" height="8.10" fill="#548DD4"/>
<rect x="562.79" y="22.90" width="7.45" height="8.10" fill="#548DD4"/>
<rect x="572.66" y="22.90" width="7.45" height="8.10" fill="#C6D9F1"/>
<rect x="580.41" y="22.90" width="7.45" height="8.10" fill="#C6D9F1"/>
<text x="426.50" y="30.70" font-size="13" text-anchor="middle" fill="#000">a</text>
<rect x="431.70" y="33.59" width="7.45" height="8.10" fill="#366092"/>
<rect x="439.45" y="33.59" width="7.45" height="8.10" fill="#366092"/>
<rect x="449.32" y="33.59" width="7.45" height="8.10" fill="#548DD4"/>
<rect x="457.07" y="33.59" width="7.45" height="8.10" fill="#548DD4"/>
<rect x="466.94" y="33.59" width="7.45" height="8.10" fill="#C6D9F1"/>
<rect x="474.69" y="33.59" width="7.45" height="8.10" fill="#548DD4"/>
<rect x="484.56" y="33.59" width="7.45" height="8.10" fill="#548DD4"/>
<rect x="492.31" y="33.59" width="7.45" height="8.10" fill="#C6D9F1"/>
<rect x="502.18" y="33.59" width="7.45" height="8.10" fill="#548DD4"/>
<rect x="509.93" y="33.59" width="7.45" height="8.10" fill="#C6D9F1"/>
<rect x="519.80" y="33.59" width="7.45" height="8.10" fill="#548DD4"/>
<rect x="527.55" y="33.59" width="7.45" height="8.10" fill="#548DD4"/>
<rect x="537.42" y="33.59" width="7.45" height="8.10" fill="#548DD4"/>
<rect x="545.17" y="33.59" width="7.45" height="8.10" fill="#548DD4"/>
<rect x="555.04" y="33.59" width="7.45" height="8.10" fill="#548DD4"/>
<rect x="562.79" y="33.59" width="7.45" height="8.10" fill="#548DD4"/>
<rect x="572.66" y="33.59" width="7.45" height="8.10" fill="#548DD4"/>
<rect x="580.41" y="33.59" width="7.45" height="8.10" fill="#548DD4"/>
<text x="426.50" y="41.39" font-size="13" text-anchor="middle" fill="#000">b</text>
<rect x="431.70" y="44.28" width="7.45" height="8.10" fill="#366092"/>
<rect x="439.45" y="44.28" width="7.45" height="8.10" fill="#366092"/>
<rect x="449.32" y="44.28" width="7.45" height="8.10" fill="#548DD4"/>
<rect x="457.07" y="44.28" width="7.45" height="8.10" fill="#366092"/>
<rect x="466.94" y="44.28" width="7.45" height="8.10" fill="#C6D9F1"/>
<rect x="474.69" y="44.28" width="7.45" height="8.10" fill="#C6D9F1"/>
<rect x="484.56" y="44.28" width="7.45" height="8.10" fill="#C6D9F1"/>
<rect x="492.31" y="44.28" width="7.45" height="8.10" fill="#548DD4"/>
<rect x="502.18" y="44.28" width="7.45" height="8.10" fill="#C6D9F1"/>
<rect x="509.93" y="44.28" width="7.45" height="8.10" fill="#C6D9F1"/>
<rect x="519.80" y="44.28" width="7.45" height="8.10" fill="#548DD4"/>
<rect x="527.55" y="44.28" width="7.45" height="8.10" fill="#548DD4"/>
<rect x="537.42" y="44.28" width="7.45" height="8.10" fill="#548DD4"/>
<rect x="545.17" y="44.28" width="7.45" height="8.10" fill="#548DD4"/>
<rect x="555.04" y="44.28" width="7.45" height="8.10" fill="#C6D9F1"/>
<rect x="562.79" y="44.28" width="7.45" height="8.10" fill="#548DD4"/>
<rect x="572.66" y="44.28" width="7.45" height="8.10" fill="#548DD4"/>
<rect x="580.41" y="44.28" width="7.45" height="8.10" fill="#548DD4"/>
<text x="426.50" y="52.08" font-size="13" text-anchor="middle" fill="#000">c</text>
<rect x="431.70" y="54.97" width="7.45" height="8.10" fill="#548DD4"/>
<rect x="439.45" y="54.97" width="7.45" height="8.10" fill="#366092"/>
<rect x="449.32" y="54.97" width="7.45" height="8.10" fill="#548DD4"/>
<rect x="457.07" y="54.97" width="7.45" height="8.10" fill="#548DD4"/>
<rect x="466.94" y="54.97" width="7.45" height="8.10" fill="#C6D9F1"/>
<rect x="474.69" y="54.97" width="7.45" height="8.10" fill="#C6D9F1"/>
<rect x="484.56" y="54.97" width="7.45" height="8.10" fill="#548DD4"/>
<rect x="492.31" y="54.97" width="7.45" height="8.10" fill="#548DD4"/>
<rect x="502.18" y="54.97" width="7.45" height="8.10" fill="#C6D9F1"/>
<rect x="509.93" y="54.97" width="7.45" height="8.10" fill="#C6D9F1"/>
<rect x="519.80" y="54.97" width="7.45" height="8.10" fill="#366092"/>
<rect x="527.55" y="54.97" width="7.45" height="8.10" fill="#366092"/>
<rect x="537.42" y="54.97" width="7.45" height="8.10" fill="#548DD4"/>
<rect x="545.17" y="54.97" width="7.45" height="8.10" fill="#548DD4"/>
<rect x="555.04" y="54.97" width="7.45" height="8.10" fill="#548DD4"/>
<rect x="562.79" y="54.97" width="7.45" height="8.10" fill="#548DD4"/>
<rect x="572.66" y="54.97" width="7.45" height="8.10" fill="#548DD4"/>
<rect x="580.41" y="54.97" width="7.45" height="8.10" fill="#548DD4"/>
<text x="426.50" y="62.77" font-size="13" text-anchor="middle" fill="#000">d</text>
<rect x="431.70" y="65.66" width="7.45" height="8.10" fill="#366092"/>
<rect x="439.45" y="65.66" width="7.45" height="8.10" fill="#366092"/>
<rect x="449.32" y="65.66" width="7.45" height="8.10" fill="#548DD4"/>
<rect x="457.07" y="65.66" width="7.45" height="8.10" fill="#548DD4"/>
<rect x="466.94" y="65.66" width="7.45" height="8.10" fill="#C6D9F1"/>
<rect x="474.69" y="65.66" width="7.45" height="8.10" fill="#C6D9F1"/>
<rect x="484.56" y="65.66" width="7.45" height="8.10" fill="#548DD4"/>
<rect x="492.31" y="65.66" width="7.45" height="8.10" fill="#548DD4"/>
<rect x="502.18" y="65.66" width="7.45" height="8.10" fill="#C6D9F1"/>
<rect x="509.93" y="65.66" width="7.45" height="8.10" fill="#C6D9F1"/>
<rect x="519.80" y="65.66" width="7.45" height="8.10" fill="#548DD4"/>
<rect x="527.55" y="65.66" width="7.45" height="8.10" fill="#C6D9F1"/>
<rect x="537.42" y="65.66" width="7.45" height="8.10" fill="#548DD4"/>
<rect x="545.17" y="65.66" width="7.45" height="8.10" fill="#548DD4"/>
<rect x="555.04" y="65.66" width="7.45" height="8.10" fill="#C6D9F1"/>
<rect x="562.79" y="65.66" width="7.45" height="8.10" fill="#C6D9F1"/>
<rect x="572.66" y="65.66" width="7.45" height="8.10" fill="#C6D9F1"/>
<rect x="580.41" y="65.66" width="7.45" height="8.10" fill="#C6D9F1"/>
<text x="426.50" y="73.46" font-size="13" text-anchor="middle" fill="#000">e</text>
<rect x="431.70" y="76.35" width="7.45" height="8.10" fill="#366092"/>
<rect x="439.45" y="76.35" width="7.45" height="8.10" fill="#548DD4"/>
<rect x="449.32" y="76.35" width="7.45" height="8.10" fill="#548DD4"/>
<rect x="457.07" y="76.35" width="7.45" height="8.10" fill="#548DD4"/>
<rect x="466.94" y="76.35" width="7.45" height="8.10" fill="#C6D9F1"/>
<rect x="474.69" y="76.35" width="7.45" height="8.10" fill="#C6D9F1"/>
<rect x="484.56" y="76.35" width="7.45" height="8.10" fill="#548DD4"/>
<rect x="492.31" y="76.35" width="7.45" height="8.10" fill="#548DD4"/>
<rect x="502.18" y="76.35" width="7.45" height="8.10" fill="#C6D9F1"/>
<rect x="509.93" y="76.35" width="7.45" height="8.10" fill="#C6D9F1"/>
<rect x="519.80" y="76.35" width="7.45" height="8.10" fill="#366092"/>
<rect x="527.55" y="76.35" width="7.45" height="8.10" fill="#548DD4"/>
<rect x="537.42" y="76.35" width="7.45" height="8.10" fill="#548DD4"/>
<rect x="545.17" y="76.35" width="7.45" height="8.10" fill="#548DD4"/>
<rect x="555.04" y="76.35" width="7.45" height="8.10" fill="#548DD4"/>
<rect x="562.79" y="76.35" width="7.45" height="8.10" fill="#548DD4"/>
<rect x="572.66" y="76.35" width="7.45" height="8.10" fill="#548DD4"/>
<rect x="580.41" y="76.35" width="7.45" height="8.10" fill="#548DD4"/>
<text x="426.50" y="84.15" font-size="13" text-anchor="middle" fill="#000">f</text>
<rect x="431.70" y="87.04" width="7.45" height="8.10" fill="#366092"/>
<rect x="439.45" y="87.04" width="7.45" height="8.10" fill="#366092"/>
<rect x="449.32" y="87.04" width="7.45" height="8.10" fill="#548DD4"/>
<rect x="457.07" y="87.04" width="7.45" height="8.10" fill="#548DD4"/>
<rect x="466.94" y="87.04" width="7.45" height="8.10" fill="#548DD4"/>
<rect x="474.69" y="87.04" width="7.45" height="8.10" fill="#C6D9F1"/>
<rect x="484.56" y="87.04" width="7.45" height="8.10" fill="#548DD4"/>
<rect x="492.31" y="87.04" width="7.45" height="8.10" fill="#366092"/>
<rect x="502.18" y="87.04" width="7.45" height="8.10" fill="#C6D9F1"/>
<rect x="509.93" y="87.04" width="7.45" height="8.10" fill="#548DD4"/>
<rect x="519.80" y="87.04" width="7.45" height="8.10" fill="#548DD4"/>
<rect x="527.55" y="87.04" width="7.45" height="8.10" fill="#548DD4"/>
<rect x="537.42" y="87.04" width="7.45" height="8.10" fill="#548DD4"/>
<rect x="545.17" y="87.04" width="7.45" height="8.10" fill="#548DD4"/>
<rect x="555.04" y="87.04" width="7.45" height="8.10" fill="#548DD4"/>
<rect x="562.79" y="87.04" width="7.45" height="8.10" fill="#548DD4"/>
<rect x="572.66" y="87.04" width="7.45" height="8.10" fill="#548DD4"/>
<rect x="580.41" y="87.04" width="7.45" height="8.10" fill="#548DD4"/>
<text x="426.50" y="94.84" font-size="13" text-anchor="middle" fill="#000">g</text>
<rect x="431.70" y="97.73" width="7.45" height="8.10" fill="#366092"/>
<rect x="439.45" y="97.73" width="7.45" height="8.10" fill="#548DD4"/>
<rect x="449.32" y="97.73" width="7.45" height="8.10" fill="#C6D9F1"/>
<rect x="457.07" y="97.73" width="7.45" height="8.10" fill="#C6D9F1"/>
<rect x="466.94" y="97.73" width="7.45" height="8.10" fill="#C6D9F1"/>
<rect x="474.69" y="97.73" width="7.45" height="8.10" fill="#C6D9F1"/>
<rect x="484.56" y="97.73" width="7.45" height="8.10" fill="#C6D9F1"/>
<rect x="492.31" y="97.73" width="7.45" height="8.10" fill="#C6D9F1"/>
<rect x="502.18" y="97.73" width="7.45" height="8.10" fill="#C6D9F1"/>
<rect x="509.93" y="97.73" width="7.45" height="8.10" fill="#C6D9F1"/>
<rect x="519.80" y="97.73" width="7.45" height="8.10" fill="#C6D9F1"/>
<rect x="527.55" y="97.73" width="7.45" height="8.10" fill="#C6D9F1"/>
<rect x="537.42" y="97.73" width="7.45" height="8.10" fill="#C6D9F1"/>
<rect x="545.17" y="97.73" width="7.45" height="8.10" fill="#C6D9F1"/>
<rect x="555.04" y="97.73" width="7.45" height="8.10" fill="#C6D9F1"/>
<rect x="562.79" y="97.73" width="7.45" height="8.10" fill="#C6D9F1"/>
<rect x="572.66" y="97.73" width="7.45" height="8.10" fill="#C6D9F1"/>
<rect x="580.41" y="97.73" width="7.45" height="8.10" fill="#C6D9F1"/>
<text x="426.50" y="105.53" font-size="13" text-anchor="middle" fill="#000">h</text>
<rect x="431.70" y="108.42" width="7.45" height="8.10" fill="#366092"/>
<rect x="439.45" y="108.42" width="7.45" height="8.10" fill="#366092"/>
<rect x="449.32" y="108.42" width="7.45" height="8.10" fill="#C6D9F1"/>
<rect x="457.07" y="108.42" width="7.45" height="8.10" fill="#C6D9F1"/>
<rect x="466.94" y="108.42" width="7.45" height="8.10" fill="#C6D9F1"/>
<rect x="474.69" y="108.42" width="7.45" height="8.10" fill="#C6D9F1"/>
<rect x="484.56" y="108.42" width="7.45" height="8.10" fill="#C6D9F1"/>
<rect x="492.31" y="108.42" width="7.45" height="8.10" fill="#C6D9F1"/>
<rect x="502.18" y="108.42" width="7.45" height="8.10" fill="#C6D9F1"/>
<rect x="509.93" y="108.42" width="7.45" height="8.10" fill="#C6D9F1"/>
<rect x="519.80" y="108.42" width="7.45" height="8.10" fill="#C6D9F1"/>
<rect x="527.55" y="108.42" width="7.45" height="8.10" fill="#C6D9F1"/>
<rect x="537.42" y="108.42" width="7.45" height="8.10" fill="#C6D9F1"/>
<rect x="545.17" y="108.42" width="7.45" height="8.10" fill="#366092"/>
<rect x="555.04" y="108.42" width="7.45" height="8.10" fill="#C6D9F1"/>
<rect x="562.79" y="108.42" width="7.45" height="8.10" fill="#C6D9F1"/>
<rect x="572.66" y="108.42" width="7.45" height="8.10" fill="#C6D9F1"/>
<rect x="580.41" y="108.42" width="7.45" height="8.10" fill="#C6D9F1"/>
<text x="426.50" y="116.22" font-size="13" text-anchor="middle" fill="#000">j</text>
<rect x="431.70" y="119.11" width="7.45" height="8.10" fill="#366092"/>
<rect x="439.45" y="119.11" width="7.45" height="8.10" fill="#366092"/>
<rect x="449.32" y="119.11" width="7.45" height="8.10" fill="#548DD4"/>
<rect x="457.07" y="119.11" width="7.45" height="8.10" fill="#548DD4"/>
<rect x="466.94" y="119.11" width="7.45" height="8.10" fill="#C6D9F1"/>
<rect x="474.69" y="119.11" width="7.45" height="8.10" fill="#548DD4"/>
<rect x="484.56" y="119.11" width="7.45" height="8.10" fill="#548DD4"/>
<rect x="492.31" y="119.11" width="7.45" height="8.10" fill="#548DD4"/>
<rect x="502.18" y="119.11" width="7.45" height="8.10" fill="#C6D9F1"/>
<rect x="509.93" y="119.11" width="7.45" height="8.10" fill="#C6D9F1"/>
<rect x="519.80" y="119.11" width="7.45" height="8.10" fill="#548DD4"/>
<rect x="527.55" y="119.11" width="7.45" height="8.10" fill="#548DD4"/>
<rect x="537.42" y="119.11" width="7.45" height="8.10" fill="#548DD4"/>
<rect x="545.17" y="119.11" width="7.45" height="8.10" fill="#548DD4"/>
<rect x="555.04" y="119.11" width="7.45" height="8.10" fill="#548DD4"/>
<rect x="562.79" y="119.11" width="7.45" height="8.10" fill="#548DD4"/>
<rect x="572.66" y="119.11" width="7.45" height="8.10" fill="#548DD4"/>
<rect x="580.41" y="119.11" width="7.45" height="8.10" fill="#548DD4"/>
<text x="426.50" y="126.91" font-size="13" text-anchor="middle" fill="#000">k</text>
<rect x="431.70" y="129.80" width="7.45" height="8.10" fill="#366092"/>
<rect x="439.45" y="129.80" width="7.45" height="8.10" fill="#366092"/>
<rect x="449.32" y="129.80" width="7.45" height="8.10" fill="#548DD4"/>
<rect x="457.07" y="129.80" width="7.45" height="8.10" fill="#548DD4"/>
<rect x="466.94" y="129.80" width="7.45" height="8.10" fill="#C6D9F1"/>
<rect x="474.69" y="129.80" width="7.45" height="8.10" fill="#C6D9F1"/>
<rect x="484.56" y="129.80" width="7.45" height="8.10" fill="#C6D9F1"/>
<rect x="492.31" y="129.80" width="7.45" height="8.10" fill="#C6D9F1"/>
<rect x="502.18" y="129.80" width="7.45" height="8.10" fill="#C6D9F1"/>
<rect x="509.93" y="129.80" width="7.45" height="8.10" fill="#C6D9F1"/>
<rect x="519.80" y="129.80" width="7.45" height="8.10" fill="#C6D9F1"/>
<rect x="527.55" y="129.80" width="7.45" height="8.10" fill="#C6D9F1"/>
<rect x="537.42" y="129.80" width="7.45" height="8.10" fill="#C6D9F1"/>
<rect x="545.17" y="129.80" width="7.45" height="8.10" fill="#C6D9F1"/>
<rect x="555.04" y="129.80" width="7.45" height="8.10" fill="#C6D9F1"/>
<rect x="562.79" y="129.80" width="7.45" height="8.10" fill="#C6D9F1"/>
<rect x="572.66" y="129.80" width="7.45" height="8.10" fill="#C6D9F1"/>
<rect x="580.41" y="129.80" width="7.45" height="8.10" fill="#C6D9F1"/>
<text x="426.50" y="137.60" font-size="13" text-anchor="middle" fill="#000">l</text>
<line x1="590.4" y1="21.3" x2="736.6" y2="21.3" stroke="#444" stroke-width="0.95"/>
<line x1="590.40" y1="21.3" x2="590.40" y2="18.5" stroke="#444" stroke-width="0.6"/>
<line x1="593.32" y1="21.3" x2="593.32" y2="19.8" stroke="#444" stroke-width="0.6"/>
<line x1="596.25" y1="21.3" x2="596.25" y2="19.8" stroke="#444" stroke-width="0.6"/>
<line x1="599.17" y1="21.3" x2="599.17" y2="19.8" stroke="#444" stroke-width="0.6"/>
<line x1="602.10" y1="21.3" x2="602.10" y2="19.8" stroke="#444" stroke-width="0.6"/>
<line x1="605.02" y1="21.3" x2="605.02" y2="18.5" stroke="#444" stroke-width="0.6"/>
<line x1="607.94" y1="21.3" x2="607.94" y2="19.8" stroke="#444" stroke-width="0.6"/>
<line x1="610.87" y1="21.3" x2="610.87" y2="19.8" stroke="#444" stroke-width="0.6"/>
<line x1="613.79" y1="21.3" x2="613.79" y2="19.8" stroke="#444" stroke-width="0.6"/>
<line x1="616.72" y1="21.3" x2="616.72" y2="19.8" stroke="#444" stroke-width="0.6"/>
<line x1="619.64" y1="21.3" x2="619.64" y2="18.5" stroke="#444" stroke-width="0.6"/>
<line x1="622.56" y1="21.3" x2="622.56" y2="19.8" stroke="#444" stroke-width="0.6"/>
<line x1="625.49" y1="21.3" x2="625.49" y2="19.8" stroke="#444" stroke-width="0.6"/>
<line x1="628.41" y1="21.3" x2="628.41" y2="19.8" stroke="#444" stroke-width="0.6"/>
<line x1="631.34" y1="21.3" x2="631.34" y2="19.8" stroke="#444" stroke-width="0.6"/>
<line x1="634.26" y1="21.3" x2="634.26" y2="18.5" stroke="#444" stroke-width="0.6"/>
<line x1="637.18" y1="21.3" x2="637.18" y2="19.8" stroke="#444" stroke-width="0.6"/>
<line x1="640.11" y1="21.3" x2="640.11" y2="19.8" stroke="#444" stroke-width="0.6"/>
<line x1="643.03" y1="21.3" x2="643.03" y2="19.8" stroke="#444" stroke-width="0.6"/>
<line x1="645.96" y1="21.3" x2="645.96" y2="19.8" stroke="#444" stroke-width="0.6"/>
<line x1="648.88" y1="21.3" x2="648.88" y2="18.5" stroke="#444" stroke-width="0.6"/>
<line x1="651.80" y1="21.3" x2="651.80" y2="19.8" stroke="#444" stroke-width="0.6"/>
<line x1="654.73" y1="21.3" x2="654.73" y2="19.8" stroke="#444" stroke-width="0.6"/>
<line x1="657.65" y1="21.3" x2="657.65" y2="19.8" stroke="#444" stroke-width="0.6"/>
<line x1="660.58" y1="21.3" x2="660.58" y2="19.8" stroke="#444" stroke-width="0.6"/>
<line x1="663.50" y1="21.3" x2="663.50" y2="18.5" stroke="#444" stroke-width="0.6"/>
<line x1="666.42" y1="21.3" x2="666.42" y2="19.8" stroke="#444" stroke-width="0.6"/>
<line x1="669.35" y1="21.3" x2="669.35" y2="19.8" stroke="#444" stroke-width="0.6"/>
<line x1="672.27" y1="21.3" x2="672.27" y2="19.8" stroke="#444" stroke-width="0.6"/>
<line x1="675.20" y1="21.3" x2="675.20" y2="19.8" stroke="#444" stroke-width="0.6"/>
<line x1="678.12" y1="21.3" x2="678.12" y2="18.5" stroke="#444" stroke-width="0.6"/>
<line x1="681.04" y1="21.3" x2="681.04" y2="19.8" stroke="#444" stroke-width="0.6"/>
<line x1="683.97" y1="21.3" x2="683.97" y2="19.8" stroke="#444" stroke-width="0.6"/>
<line x1="686.89" y1="21.3" x2="686.89" y2="19.8" stroke="#444" stroke-width="0.6"/>
<line x1="689.82" y1="21.3" x2="689.82" y2="19.8" stroke="#444" stroke-width="0.6"/>
<line x1="692.74" y1="21.3" x2="692.74" y2="18.5" stroke="#444" stroke-width="0.6"/>
<line x1="695.66" y1="21.3" x2="695.66" y2="19.8" stroke="#444" stroke-width="0.6"/>
<line x1="698.59" y1="21.3" x2="698.59" y2="19.8" stroke="#444" stroke-width="0.6"/>
<line x1="701.51" y1="21.3" x2="701.51" y2="19.8" stroke="#444" stroke-width="0.6"/>
<line x1="704.44" y1="21.3" x2="704.44" y2="19.8" stroke="#444" stroke-width="0.6"/>
<line x1="707.36" y1="21.3" x2="707.36" y2="18.5" stroke="#444" stroke-width="0.6"/>
<line x1="710.28" y1="21.3" x2="710.28" y2="19.8" stroke="#444" stroke-width="0.6"/>
<line x1="713.21" y1="21.3" x2="713.21" y2="19.8" stroke="#444" stroke-width="0.6"/>
<line x1="716.13" y1="21.3" x2="716.13" y2="19.8" stroke="#444" stroke-width="0.6"/>
<line x1="719.06" y1="21.3" x2="719.06" y2="19.8" stroke="#444" stroke-width="0.6"/>
<line x1="721.98" y1="21.3" x2="721.98" y2="18.5" stroke="#444" stroke-width="0.6"/>
<line x1="724.90" y1="21.3" x2="724.90" y2="19.8" stroke="#444" stroke-width="0.6"/>
<line x1="727.83" y1="21.3" x2="727.83" y2="19.8" stroke="#444" stroke-width="0.6"/>
<line x1="730.75" y1="21.3" x2="730.75" y2="19.8" stroke="#444" stroke-width="0.6"/>
<line x1="733.68" y1="21.3" x2="733.68" y2="19.8" stroke="#444" stroke-width="0.6"/>
<line x1="736.60" y1="21.3" x2="736.60" y2="18.5" stroke="#444" stroke-width="0.6"/>
<text transform="translate(621.14 17.80) scale(0.77 1)" font-size="7.4" text-anchor="middle" fill="#222">20%</text>
<text transform="translate(650.38 17.80) scale(0.77 1)" font-size="7.4" text-anchor="middle" fill="#222">40%</text>
<text transform="translate(679.62 17.80) scale(0.77 1)" font-size="7.4" text-anchor="middle" fill="#222">60%</text>
<text transform="translate(708.86 17.80) scale(0.77 1)" font-size="7.4" text-anchor="middle" fill="#222">80%</text>
<text transform="translate(738.10 17.80) scale(0.77 1)" font-size="7.4" text-anchor="middle" fill="#222">100%</text>
<path d="M590.80 26.70H638.70" stroke="#0000FF" stroke-width="2.4" fill="none"/>
<path d="M590.80 22.90v7.6M638.70 22.90v7.6" stroke="#0000FF" stroke-width="1.1" fill="none"/>
<path d="M590.80 37.60H688.10" stroke="#0000FF" stroke-width="2.5" fill="none"/>
<path d="M590.80 33.80v7.6M688.10 33.80v7.6" stroke="#0000FF" stroke-width="1.8" fill="none"/>
<path d="M590.80 48.90H694.00" stroke="#0000FF" stroke-width="2.5" fill="none"/>
<path d="M590.80 45.10v7.6M694.00 45.10v7.6" stroke="#0000FF" stroke-width="1.8" fill="none"/>
<path d="M590.80 58.30H708.90" stroke="#0000FF" stroke-width="2.5" fill="none"/>
<path d="M590.80 54.50v7.6M708.90 54.50v7.6" stroke="#0000FF" stroke-width="1.8" fill="none"/>
<path d="M590.80 68.40H719.30" stroke="#0000FF" stroke-width="2.5" fill="none"/>
<path d="M590.80 64.60v7.6M719.30 64.60v7.6" stroke="#0000FF" stroke-width="1.8" fill="none"/>
<path d="M590.80 79.60H714.60" stroke="#0000FF" stroke-width="2.5" fill="none"/>
<path d="M590.80 75.80v7.6M714.60 75.80v7.6" stroke="#0000FF" stroke-width="1.8" fill="none"/>
<path d="M590.80 90.20H735.40" stroke="#0000FF" stroke-width="2.5" fill="none"/>
<path d="M590.80 86.40v7.6M735.40 86.40v7.6" stroke="#0000FF" stroke-width="1.8" fill="none"/>
<path d="M590.80 101.90H627.80" stroke="#0000FF" stroke-width="1.7" fill="none"/>
<path d="M590.80 98.10v7.6M627.80 98.10v7.6" stroke="#0000FF" stroke-width="1.1" fill="none"/>
<path d="M590.80 113.00H645.90" stroke="#0000FF" stroke-width="1.7" fill="none"/>
<path d="M590.80 109.20v7.6M645.90 109.20v7.6" stroke="#0000FF" stroke-width="1.1" fill="none"/>
<path d="M590.80 122.20H698.50" stroke="#0000FF" stroke-width="2.5" fill="none"/>
<path d="M590.80 118.40v7.6M698.50 118.40v7.6" stroke="#0000FF" stroke-width="1.8" fill="none"/>
<path d="M590.80 132.90H703.20" stroke="#0000FF" stroke-width="2.5" fill="none"/>
<path d="M590.80 129.10v7.6M703.20 129.10v7.6" stroke="#0000FF" stroke-width="1.8" fill="none"/>
<line x1="679.6" y1="21.5" x2="679.6" y2="138.9" stroke="#0000FF" stroke-width="1.3"/>
<path d="M648.55 23.60L653.65 32.00M653.65 23.60L648.55 32.00" stroke="#0000FF" stroke-width="2.6" fill="none"/>
<path d="M634.65 98.00L639.75 106.40M639.75 98.00L634.65 106.40" stroke="#0000FF" stroke-width="2.6" fill="none"/>
<path d="M652.75 109.30L657.85 117.70M657.85 109.30L652.75 117.70" stroke="#0000FF" stroke-width="2.6" fill="none"/>
<text x="745.30" y="86.78" font-size="9.5" text-anchor="middle" fill="#111">③</text>
<line x1="431.0" y1="140.8" x2="431.0" y2="292.6" stroke="#444" stroke-width="0.95"/>
<line x1="431.0" y1="140.80" x2="428.4" y2="140.80" stroke="#444" stroke-width="0.6"/>
<line x1="431.0" y1="143.84" x2="429.6" y2="143.84" stroke="#444" stroke-width="0.6"/>
<line x1="431.0" y1="146.87" x2="429.6" y2="146.87" stroke="#444" stroke-width="0.6"/>
<line x1="431.0" y1="149.91" x2="429.6" y2="149.91" stroke="#444" stroke-width="0.6"/>
<line x1="431.0" y1="152.94" x2="429.6" y2="152.94" stroke="#444" stroke-width="0.6"/>
<line x1="431.0" y1="155.98" x2="428.4" y2="155.98" stroke="#444" stroke-width="0.6"/>
<line x1="431.0" y1="159.02" x2="429.6" y2="159.02" stroke="#444" stroke-width="0.6"/>
<line x1="431.0" y1="162.05" x2="429.6" y2="162.05" stroke="#444" stroke-width="0.6"/>
<line x1="431.0" y1="165.09" x2="429.6" y2="165.09" stroke="#444" stroke-width="0.6"/>
<line x1="431.0" y1="168.12" x2="429.6" y2="168.12" stroke="#444" stroke-width="0.6"/>
<line x1="431.0" y1="171.16" x2="428.4" y2="171.16" stroke="#444" stroke-width="0.6"/>
<line x1="431.0" y1="174.20" x2="429.6" y2="174.20" stroke="#444" stroke-width="0.6"/>
<line x1="431.0" y1="177.23" x2="429.6" y2="177.23" stroke="#444" stroke-width="0.6"/>
<line x1="431.0" y1="180.27" x2="429.6" y2="180.27" stroke="#444" stroke-width="0.6"/>
<line x1="431.0" y1="183.30" x2="429.6" y2="183.30" stroke="#444" stroke-width="0.6"/>
<line x1="431.0" y1="186.34" x2="428.4" y2="186.34" stroke="#444" stroke-width="0.6"/>
<line x1="431.0" y1="189.38" x2="429.6" y2="189.38" stroke="#444" stroke-width="0.6"/>
<line x1="431.0" y1="192.41" x2="429.6" y2="192.41" stroke="#444" stroke-width="0.6"/>
<line x1="431.0" y1="195.45" x2="429.6" y2="195.45" stroke="#444" stroke-width="0.6"/>
<line x1="431.0" y1="198.48" x2="429.6" y2="198.48" stroke="#444" stroke-width="0.6"/>
<line x1="431.0" y1="201.52" x2="428.4" y2="201.52" stroke="#444" stroke-width="0.6"/>
<line x1="431.0" y1="204.56" x2="429.6" y2="204.56" stroke="#444" stroke-width="0.6"/>
<line x1="431.0" y1="207.59" x2="429.6" y2="207.59" stroke="#444" stroke-width="0.6"/>
<line x1="431.0" y1="210.63" x2="429.6" y2="210.63" stroke="#444" stroke-width="0.6"/>
<line x1="431.0" y1="213.66" x2="429.6" y2="213.66" stroke="#444" stroke-width="0.6"/>
<line x1="431.0" y1="216.70" x2="428.4" y2="216.70" stroke="#444" stroke-width="0.6"/>
<line x1="431.0" y1="219.74" x2="429.6" y2="219.74" stroke="#444" stroke-width="0.6"/>
<line x1="431.0" y1="222.77" x2="429.6" y2="222.77" stroke="#444" stroke-width="0.6"/>
<line x1="431.0" y1="225.81" x2="429.6" y2="225.81" stroke="#444" stroke-width="0.6"/>
<line x1="431.0" y1="228.84" x2="429.6" y2="228.84" stroke="#444" stroke-width="0.6"/>
<line x1="431.0" y1="231.88" x2="428.4" y2="231.88" stroke="#444" stroke-width="0.6"/>
<line x1="431.0" y1="234.92" x2="429.6" y2="234.92" stroke="#444" stroke-width="0.6"/>
<line x1="431.0" y1="237.95" x2="429.6" y2="237.95" stroke="#444" stroke-width="0.6"/>
<line x1="431.0" y1="240.99" x2="429.6" y2="240.99" stroke="#444" stroke-width="0.6"/>
<line x1="431.0" y1="244.02" x2="429.6" y2="244.02" stroke="#444" stroke-width="0.6"/>
<line x1="431.0" y1="247.06" x2="428.4" y2="247.06" stroke="#444" stroke-width="0.6"/>
<line x1="431.0" y1="250.10" x2="429.6" y2="250.10" stroke="#444" stroke-width="0.6"/>
<line x1="431.0" y1="253.13" x2="429.6" y2="253.13" stroke="#444" stroke-width="0.6"/>
<line x1="431.0" y1="256.17" x2="429.6" y2="256.17" stroke="#444" stroke-width="0.6"/>
<line x1="431.0" y1="259.20" x2="429.6" y2="259.20" stroke="#444" stroke-width="0.6"/>
<line x1="431.0" y1="262.24" x2="428.4" y2="262.24" stroke="#444" stroke-width="0.6"/>
<line x1="431.0" y1="265.28" x2="429.6" y2="265.28" stroke="#444" stroke-width="0.6"/>
<line x1="431.0" y1="268.31" x2="429.6" y2="268.31" stroke="#444" stroke-width="0.6"/>
<line x1="431.0" y1="271.35" x2="429.6" y2="271.35" stroke="#444" stroke-width="0.6"/>
<line x1="431.0" y1="274.38" x2="429.6" y2="274.38" stroke="#444" stroke-width="0.6"/>
<line x1="431.0" y1="277.42" x2="428.4" y2="277.42" stroke="#444" stroke-width="0.6"/>
<line x1="431.0" y1="280.46" x2="429.6" y2="280.46" stroke="#444" stroke-width="0.6"/>
<line x1="431.0" y1="283.49" x2="429.6" y2="283.49" stroke="#444" stroke-width="0.6"/>
<line x1="431.0" y1="286.53" x2="429.6" y2="286.53" stroke="#444" stroke-width="0.6"/>
<line x1="431.0" y1="289.56" x2="429.6" y2="289.56" stroke="#444" stroke-width="0.6"/>
<line x1="431.0" y1="292.60" x2="428.4" y2="292.60" stroke="#444" stroke-width="0.6"/>
<text transform="translate(428.30 174.08) scale(0.86 1)" font-size="7.0" text-anchor="end" fill="#222">20%</text>
<text transform="translate(428.30 203.98) scale(0.86 1)" font-size="7.0" text-anchor="end" fill="#222">40%</text>
<text transform="translate(428.30 234.58) scale(0.86 1)" font-size="7.0" text-anchor="end" fill="#222">60%</text>
<text transform="translate(428.30 264.68) scale(0.86 1)" font-size="7.0" text-anchor="end" fill="#222">80%</text>
<text transform="translate(428.30 295.38) scale(0.86 1)" font-size="7.0" text-anchor="end" fill="#222">100%</text>
<path d="M439.30 140.90V292.50" stroke="#00FFFF" stroke-width="2.3" fill="none"/>
<path d="M435.70 140.90h7.2M435.70 292.50h7.2" stroke="#00FFFF" stroke-width="1.5" fill="none"/>
<path d="M457.20 140.90V291.90" stroke="#00FFFF" stroke-width="2.3" fill="none"/>
<path d="M453.60 140.90h7.2M453.60 291.90h7.2" stroke="#00FFFF" stroke-width="1.5" fill="none"/>
<path d="M475.40 140.90V293.50" stroke="#00FFFF" stroke-width="2.3" fill="none"/>
<path d="M471.80 140.90h7.2M471.80 293.50h7.2" stroke="#00FFFF" stroke-width="1.5" fill="none"/>
<path d="M492.80 140.90V261.20" stroke="#00FFFF" stroke-width="2.3" fill="none"/>
<path d="M489.20 140.90h7.2M489.20 261.20h7.2" stroke="#00FFFF" stroke-width="1.5" fill="none"/>
<path d="M510.00 140.90V292.80" stroke="#00FFFF" stroke-width="2.3" fill="none"/>
<path d="M506.40 140.90h7.2M506.40 292.80h7.2" stroke="#00FFFF" stroke-width="1.5" fill="none"/>
<path d="M528.10 140.90V239.70" stroke="#00FFFF" stroke-width="2.3" fill="none"/>
<path d="M524.50 140.90h7.2M524.50 239.70h7.2" stroke="#00FFFF" stroke-width="1.5" fill="none"/>
<path d="M546.50 140.90V272.00" stroke="#00FFFF" stroke-width="2.3" fill="none"/>
<path d="M542.90 140.90h7.2M542.90 272.00h7.2" stroke="#00FFFF" stroke-width="1.5" fill="none"/>
<path d="M564.10 140.90V248.30" stroke="#00FFFF" stroke-width="2.3" fill="none"/>
<path d="M560.50 140.90h7.2M560.50 248.30h7.2" stroke="#00FFFF" stroke-width="1.5" fill="none"/>
<path d="M582.50 140.90V261.20" stroke="#00FFFF" stroke-width="2.3" fill="none"/>
<path d="M578.90 140.90h7.2M578.90 261.20h7.2" stroke="#00FFFF" stroke-width="1.5" fill="none"/>
<line x1="431" y1="231.5" x2="587" y2="231.5" stroke="#00FFFF" stroke-width="1.4"/>
<text x="526.90" y="256.08" font-size="9.5" text-anchor="middle" fill="#111">④</text>
<text x="46.50" y="317.00" font-size="12" text-anchor="start" fill="#000">C</text>
<text x="103.80" y="320.40" font-size="14.5" text-anchor="middle" fill="#111">1</text>
<text x="160.70" y="320.40" font-size="14.5" text-anchor="middle" fill="#111">2</text>
<text x="217.80" y="320.40" font-size="14.5" text-anchor="middle" fill="#111">3</text>
<text x="274.50" y="320.40" font-size="14.5" text-anchor="middle" fill="#111">4</text>
<text x="331.90" y="320.40" font-size="14.5" text-anchor="middle" fill="#111">5</text>
<text x="390.20" y="319.80" font-size="14.5" text-anchor="middle" fill="#111">8</text>
<text x="447.40" y="319.80" font-size="14.5" text-anchor="middle" fill="#111">9</text>
<text x="505.00" y="319.80" font-size="14.5" text-anchor="middle" fill="#111">10</text>
<text x="561.90" y="319.80" font-size="14.5" text-anchor="middle" fill="#111">11</text>
<rect x="80.30" y="322.20" width="24.50" height="19.00" fill="#366092"/>
<rect x="105.60" y="322.20" width="24.50" height="19.00" fill="#366092"/>
<rect x="137.90" y="322.20" width="24.20" height="19.00" fill="#548DD4"/>
<rect x="162.90" y="322.20" width="24.20" height="19.00" fill="#548DD4"/>
<rect x="195.00" y="322.20" width="24.20" height="19.00" fill="#C6D9F1"/>
<rect x="220.00" y="322.20" width="24.20" height="19.00" fill="#548DD4"/>
<rect x="251.70" y="322.20" width="24.20" height="19.00" fill="#548DD4"/>
<rect x="276.70" y="322.20" width="24.20" height="19.00" fill="#C6D9F1"/>
<rect x="308.60" y="322.20" width="24.20" height="19.00" fill="#548DD4"/>
<rect x="333.60" y="322.20" width="24.20" height="19.00" fill="#C6D9F1"/>
<rect x="366.90" y="321.20" width="24.20" height="19.00" fill="#548DD4"/>
<rect x="391.90" y="321.20" width="24.20" height="19.00" fill="#548DD4"/>
<rect x="424.10" y="321.20" width="24.15" height="19.00" fill="#548DD4"/>
<rect x="449.05" y="321.20" width="24.15" height="19.00" fill="#548DD4"/>
<rect x="481.50" y="321.20" width="24.30" height="19.00" fill="#548DD4"/>
<rect x="506.60" y="321.20" width="24.30" height="19.00" fill="#548DD4"/>
<rect x="539.10" y="321.20" width="24.55" height="19.00" fill="#548DD4"/>
<rect x="564.45" y="321.20" width="24.55" height="19.00" fill="#548DD4"/>
<text x="69.80" y="337.80" font-size="15.5" text-anchor="middle" fill="#111">b</text>
<rect x="80.30" y="346.65" width="24.50" height="19.00" fill="#366092"/>
<rect x="105.60" y="346.65" width="24.50" height="19.00" fill="#366092"/>
<rect x="137.90" y="346.65" width="24.20" height="19.00" fill="#548DD4"/>
<rect x="162.90" y="346.65" width="24.20" height="19.00" fill="#366092"/>
<rect x="195.00" y="346.65" width="24.20" height="19.00" fill="#C6D9F1"/>
<rect x="220.00" y="346.65" width="24.20" height="19.00" fill="#C6D9F1"/>
<rect x="251.70" y="346.65" width="24.20" height="19.00" fill="#C6D9F1"/>
<rect x="276.70" y="346.65" width="24.20" height="19.00" fill="#548DD4"/>
<rect x="308.60" y="346.65" width="24.20" height="19.00" fill="#C6D9F1"/>
<rect x="333.60" y="346.65" width="24.20" height="19.00" fill="#C6D9F1"/>
<rect x="366.90" y="345.65" width="24.20" height="19.00" fill="#548DD4"/>
<rect x="391.90" y="345.65" width="24.20" height="19.00" fill="#548DD4"/>
<rect x="424.10" y="345.65" width="24.15" height="19.00" fill="#548DD4"/>
<rect x="449.05" y="345.65" width="24.15" height="19.00" fill="#548DD4"/>
<rect x="481.50" y="345.65" width="24.30" height="19.00" fill="#C6D9F1"/>
<rect x="506.60" y="345.65" width="24.30" height="19.00" fill="#548DD4"/>
<rect x="539.10" y="345.65" width="24.55" height="19.00" fill="#548DD4"/>
<rect x="564.45" y="345.65" width="24.55" height="19.00" fill="#548DD4"/>
<text x="69.80" y="362.25" font-size="15.5" text-anchor="middle" fill="#111">c</text>
<rect x="80.30" y="371.10" width="24.50" height="19.00" fill="#548DD4"/>
<rect x="105.60" y="371.10" width="24.50" height="19.00" fill="#366092"/>
<rect x="137.90" y="371.10" width="24.20" height="19.00" fill="#548DD4"/>
<rect x="162.90" y="371.10" width="24.20" height="19.00" fill="#548DD4"/>
<rect x="195.00" y="371.10" width="24.20" height="19.00" fill="#C6D9F1"/>
<rect x="220.00" y="371.10" width="24.20" height="19.00" fill="#C6D9F1"/>
<rect x="251.70" y="371.10" width="24.20" height="19.00" fill="#548DD4"/>
<rect x="276.70" y="371.10" width="24.20" height="19.00" fill="#548DD4"/>
<rect x="308.60" y="371.10" width="24.20" height="19.00" fill="#C6D9F1"/>
<rect x="333.60" y="371.10" width="24.20" height="19.00" fill="#C6D9F1"/>
<rect x="366.90" y="370.10" width="24.20" height="19.00" fill="#366092"/>
<rect x="391.90" y="370.10" width="24.20" height="19.00" fill="#366092"/>
<rect x="424.10" y="370.10" width="24.15" height="19.00" fill="#548DD4"/>
<rect x="449.05" y="370.10" width="24.15" height="19.00" fill="#548DD4"/>
<rect x="481.50" y="370.10" width="24.30" height="19.00" fill="#548DD4"/>
<rect x="506.60" y="370.10" width="24.30" height="19.00" fill="#548DD4"/>
<rect x="539.10" y="370.10" width="24.55" height="19.00" fill="#548DD4"/>
<rect x="564.45" y="370.10" width="24.55" height="19.00" fill="#548DD4"/>
<text x="69.80" y="386.70" font-size="15.5" text-anchor="middle" fill="#111">d</text>
<rect x="80.30" y="395.55" width="24.50" height="19.00" fill="#366092"/>
<rect x="105.60" y="395.55" width="24.50" height="19.00" fill="#366092"/>
<rect x="137.90" y="395.55" width="24.20" height="19.00" fill="#548DD4"/>
<rect x="162.90" y="395.55" width="24.20" height="19.00" fill="#548DD4"/>
<rect x="195.00" y="395.55" width="24.20" height="19.00" fill="#C6D9F1"/>
<rect x="220.00" y="395.55" width="24.20" height="19.00" fill="#C6D9F1"/>
<rect x="251.70" y="395.55" width="24.20" height="19.00" fill="#548DD4"/>
<rect x="276.70" y="395.55" width="24.20" height="19.00" fill="#548DD4"/>
<rect x="308.60" y="395.55" width="24.20" height="19.00" fill="#C6D9F1"/>
<rect x="333.60" y="395.55" width="24.20" height="19.00" fill="#C6D9F1"/>
<rect x="366.90" y="394.55" width="24.20" height="19.00" fill="#548DD4"/>
<rect x="391.90" y="394.55" width="24.20" height="19.00" fill="#C6D9F1"/>
<rect x="424.10" y="394.55" width="24.15" height="19.00" fill="#548DD4"/>
<rect x="449.05" y="394.55" width="24.15" height="19.00" fill="#548DD4"/>
<rect x="481.50" y="394.55" width="24.30" height="19.00" fill="#C6D9F1"/>
<rect x="506.60" y="394.55" width="24.30" height="19.00" fill="#C6D9F1"/>
<rect x="539.10" y="394.55" width="24.55" height="19.00" fill="#C6D9F1"/>
<rect x="564.45" y="394.55" width="24.55" height="19.00" fill="#C6D9F1"/>
<text x="69.80" y="411.15" font-size="15.5" text-anchor="middle" fill="#111">e</text>
<rect x="80.30" y="420.00" width="24.50" height="19.00" fill="#366092"/>
<rect x="105.60" y="420.00" width="24.50" height="19.00" fill="#548DD4"/>
<rect x="137.90" y="420.00" width="24.20" height="19.00" fill="#548DD4"/>
<rect x="162.90" y="420.00" width="24.20" height="19.00" fill="#548DD4"/>
<rect x="195.00" y="420.00" width="24.20" height="19.00" fill="#C6D9F1"/>
<rect x="220.00" y="420.00" width="24.20" height="19.00" fill="#C6D9F1"/>
<rect x="251.70" y="420.00" width="24.20" height="19.00" fill="#548DD4"/>
<rect x="276.70" y="420.00" width="24.20" height="19.00" fill="#548DD4"/>
<rect x="308.60" y="420.00" width="24.20" height="19.00" fill="#C6D9F1"/>
<rect x="333.60" y="420.00" width="24.20" height="19.00" fill="#C6D9F1"/>
<rect x="366.90" y="419.00" width="24.20" height="19.00" fill="#366092"/>
<rect x="391.90" y="419.00" width="24.20" height="19.00" fill="#548DD4"/>
<rect x="424.10" y="419.00" width="24.15" height="19.00" fill="#548DD4"/>
<rect x="449.05" y="419.00" width="24.15" height="19.00" fill="#548DD4"/>
<rect x="481.50" y="419.00" width="24.30" height="19.00" fill="#548DD4"/>
<rect x="506.60" y="419.00" width="24.30" height="19.00" fill="#548DD4"/>
<rect x="539.10" y="419.00" width="24.55" height="19.00" fill="#548DD4"/>
<rect x="564.45" y="419.00" width="24.55" height="19.00" fill="#548DD4"/>
<text x="69.80" y="435.60" font-size="15.5" text-anchor="middle" fill="#111">f</text>
<rect x="80.30" y="444.45" width="24.50" height="19.00" fill="#366092"/>
<rect x="105.60" y="444.45" width="24.50" height="19.00" fill="#366092"/>
<rect x="137.90" y="444.45" width="24.20" height="19.00" fill="#548DD4"/>
<rect x="162.90" y="444.45" width="24.20" height="19.00" fill="#548DD4"/>
<rect x="195.00" y="444.45" width="24.20" height="19.00" fill="#548DD4"/>
<rect x="220.00" y="444.45" width="24.20" height="19.00" fill="#C6D9F1"/>
<rect x="251.70" y="444.45" width="24.20" height="19.00" fill="#548DD4"/>
<rect x="276.70" y="444.45" width="24.20" height="19.00" fill="#366092"/>
<rect x="308.60" y="444.45" width="24.20" height="19.00" fill="#C6D9F1"/>
<rect x="333.60" y="444.45" width="24.20" height="19.00" fill="#548DD4"/>
<rect x="366.90" y="443.45" width="24.20" height="19.00" fill="#548DD4"/>
<rect x="391.90" y="443.45" width="24.20" height="19.00" fill="#548DD4"/>
<rect x="424.10" y="443.45" width="24.15" height="19.00" fill="#548DD4"/>
<rect x="449.05" y="443.45" width="24.15" height="19.00" fill="#548DD4"/>
<rect x="481.50" y="443.45" width="24.30" height="19.00" fill="#548DD4"/>
<rect x="506.60" y="443.45" width="24.30" height="19.00" fill="#548DD4"/>
<rect x="539.10" y="443.45" width="24.55" height="19.00" fill="#548DD4"/>
<rect x="564.45" y="443.45" width="24.55" height="19.00" fill="#548DD4"/>
<text x="69.80" y="460.05" font-size="15.5" text-anchor="middle" fill="#111">g</text>
<rect x="80.30" y="468.90" width="24.50" height="19.00" fill="#366092"/>
<rect x="105.60" y="468.90" width="24.50" height="19.00" fill="#366092"/>
<rect x="137.90" y="468.90" width="24.20" height="19.00" fill="#548DD4"/>
<rect x="162.90" y="468.90" width="24.20" height="19.00" fill="#548DD4"/>
<rect x="195.00" y="468.90" width="24.20" height="19.00" fill="#C6D9F1"/>
<rect x="220.00" y="468.90" width="24.20" height="19.00" fill="#548DD4"/>
<rect x="251.70" y="468.90" width="24.20" height="19.00" fill="#548DD4"/>
<rect x="276.70" y="468.90" width="24.20" height="19.00" fill="#548DD4"/>
<rect x="308.60" y="468.90" width="24.20" height="19.00" fill="#C6D9F1"/>
<rect x="333.60" y="468.90" width="24.20" height="19.00" fill="#C6D9F1"/>
<rect x="366.90" y="467.90" width="24.20" height="19.00" fill="#548DD4"/>
<rect x="391.90" y="467.90" width="24.20" height="19.00" fill="#548DD4"/>
<rect x="424.10" y="467.90" width="24.15" height="19.00" fill="#548DD4"/>
<rect x="449.05" y="467.90" width="24.15" height="19.00" fill="#548DD4"/>
<rect x="481.50" y="467.90" width="24.30" height="19.00" fill="#548DD4"/>
<rect x="506.60" y="467.90" width="24.30" height="19.00" fill="#548DD4"/>
<rect x="539.10" y="467.90" width="24.55" height="19.00" fill="#548DD4"/>
<rect x="564.45" y="467.90" width="24.55" height="19.00" fill="#548DD4"/>
<text x="69.80" y="484.50" font-size="15.5" text-anchor="middle" fill="#111">k</text>
<rect x="80.30" y="493.35" width="24.50" height="19.00" fill="#366092"/>
<rect x="105.60" y="493.35" width="24.50" height="19.00" fill="#366092"/>
<rect x="137.90" y="493.35" width="24.20" height="19.00" fill="#548DD4"/>
<rect x="162.90" y="493.35" width="24.20" height="19.00" fill="#548DD4"/>
<rect x="195.00" y="493.35" width="24.20" height="19.00" fill="#C6D9F1"/>
<rect x="220.00" y="493.35" width="24.20" height="19.00" fill="#C6D9F1"/>
<rect x="251.70" y="493.35" width="24.20" height="19.00" fill="#C6D9F1"/>
<rect x="276.70" y="493.35" width="24.20" height="19.00" fill="#C6D9F1"/>
<rect x="308.60" y="493.35" width="24.20" height="19.00" fill="#C6D9F1"/>
<rect x="333.60" y="493.35" width="24.20" height="19.00" fill="#C6D9F1"/>
<rect x="366.90" y="492.35" width="24.20" height="19.00" fill="#C6D9F1"/>
<rect x="391.90" y="492.35" width="24.20" height="19.00" fill="#C6D9F1"/>
<rect x="424.10" y="492.35" width="24.15" height="19.00" fill="#C6D9F1"/>
<rect x="449.05" y="492.35" width="24.15" height="19.00" fill="#C6D9F1"/>
<rect x="481.50" y="492.35" width="24.30" height="19.00" fill="#C6D9F1"/>
<rect x="506.60" y="492.35" width="24.30" height="19.00" fill="#C6D9F1"/>
<rect x="539.10" y="492.35" width="24.55" height="19.00" fill="#C6D9F1"/>
<rect x="564.45" y="492.35" width="24.55" height="19.00" fill="#C6D9F1"/>
<text x="69.80" y="508.95" font-size="15.5" text-anchor="middle" fill="#111">l</text>
<text x="84.25" y="529.60" font-size="15.5" text-anchor="middle" fill="#111">Ⅰ</text>
<text x="86.14" y="527.90" font-size="12.2" text-anchor="start" fill="#111">（100%）</text>
<text x="141.95" y="529.60" font-size="15.5" text-anchor="middle" fill="#111">Ⅱ</text>
<text x="142.54" y="527.90" font-size="12.2" text-anchor="start" fill="#111">（100%）</text>
<text x="201.25" y="529.60" font-size="15.5" text-anchor="middle" fill="#111">Ⅲ</text>
<text x="200.64" y="527.90" font-size="12.2" text-anchor="start" fill="#111">（100%）</text>
<text x="257.95" y="529.60" font-size="15.5" text-anchor="middle" fill="#111">Ⅱ</text>
<text x="259.04" y="527.90" font-size="12.2" text-anchor="start" fill="#111">（80%）</text>
<text x="316.05" y="529.60" font-size="15.5" text-anchor="middle" fill="#111">Ⅲ</text>
<text x="316.14" y="527.90" font-size="12.2" text-anchor="start" fill="#111">（100%）</text>
<text x="373.85" y="529.60" font-size="15.5" text-anchor="middle" fill="#111">Ⅱ</text>
<text x="370.84" y="527.90" font-size="12.2" text-anchor="start" fill="#111">（66.7%）</text>
<text x="428.65" y="529.60" font-size="15.5" text-anchor="middle" fill="#111">Ⅱ</text>
<text x="426.14" y="527.90" font-size="12.2" text-anchor="start" fill="#111">（88.9%）</text>
<text x="487.95" y="529.60" font-size="15.5" text-anchor="middle" fill="#111">Ⅱ</text>
<text x="485.64" y="527.90" font-size="12.2" text-anchor="start" fill="#111">（71.4%）</text>
<text x="546.25" y="529.60" font-size="15.5" text-anchor="middle" fill="#111">Ⅱ</text>
<text x="544.74" y="527.90" font-size="12.2" text-anchor="start" fill="#111">（75%）</text>
<text x="597.30" y="528.70" font-size="16.1" text-anchor="start" fill="#111">Grade<tspan x="633.2">（</tspan><tspan x="651.7">Cs</tspan><tspan x="670.7">）</tspan></text>
<rect x="625.2" y="416.30" width="24.5" height="19.3" fill="#366092"/>
<text x="659.50" y="432.90" font-size="19.9" text-anchor="start" fill="#111">Grade I</text>
<rect x="625.2" y="443.95" width="24.5" height="19.3" fill="#548DD4"/>
<text x="659.50" y="460.15" font-size="19.9" text-anchor="start" fill="#111">Grade II</text>
<rect x="625.2" y="471.60" width="24.5" height="19.3" fill="#C6D9F1"/>
<text x="659.50" y="487.40" font-size="19.9" text-anchor="start" fill="#111">Grade III</text>
</svg>
</body></html>
